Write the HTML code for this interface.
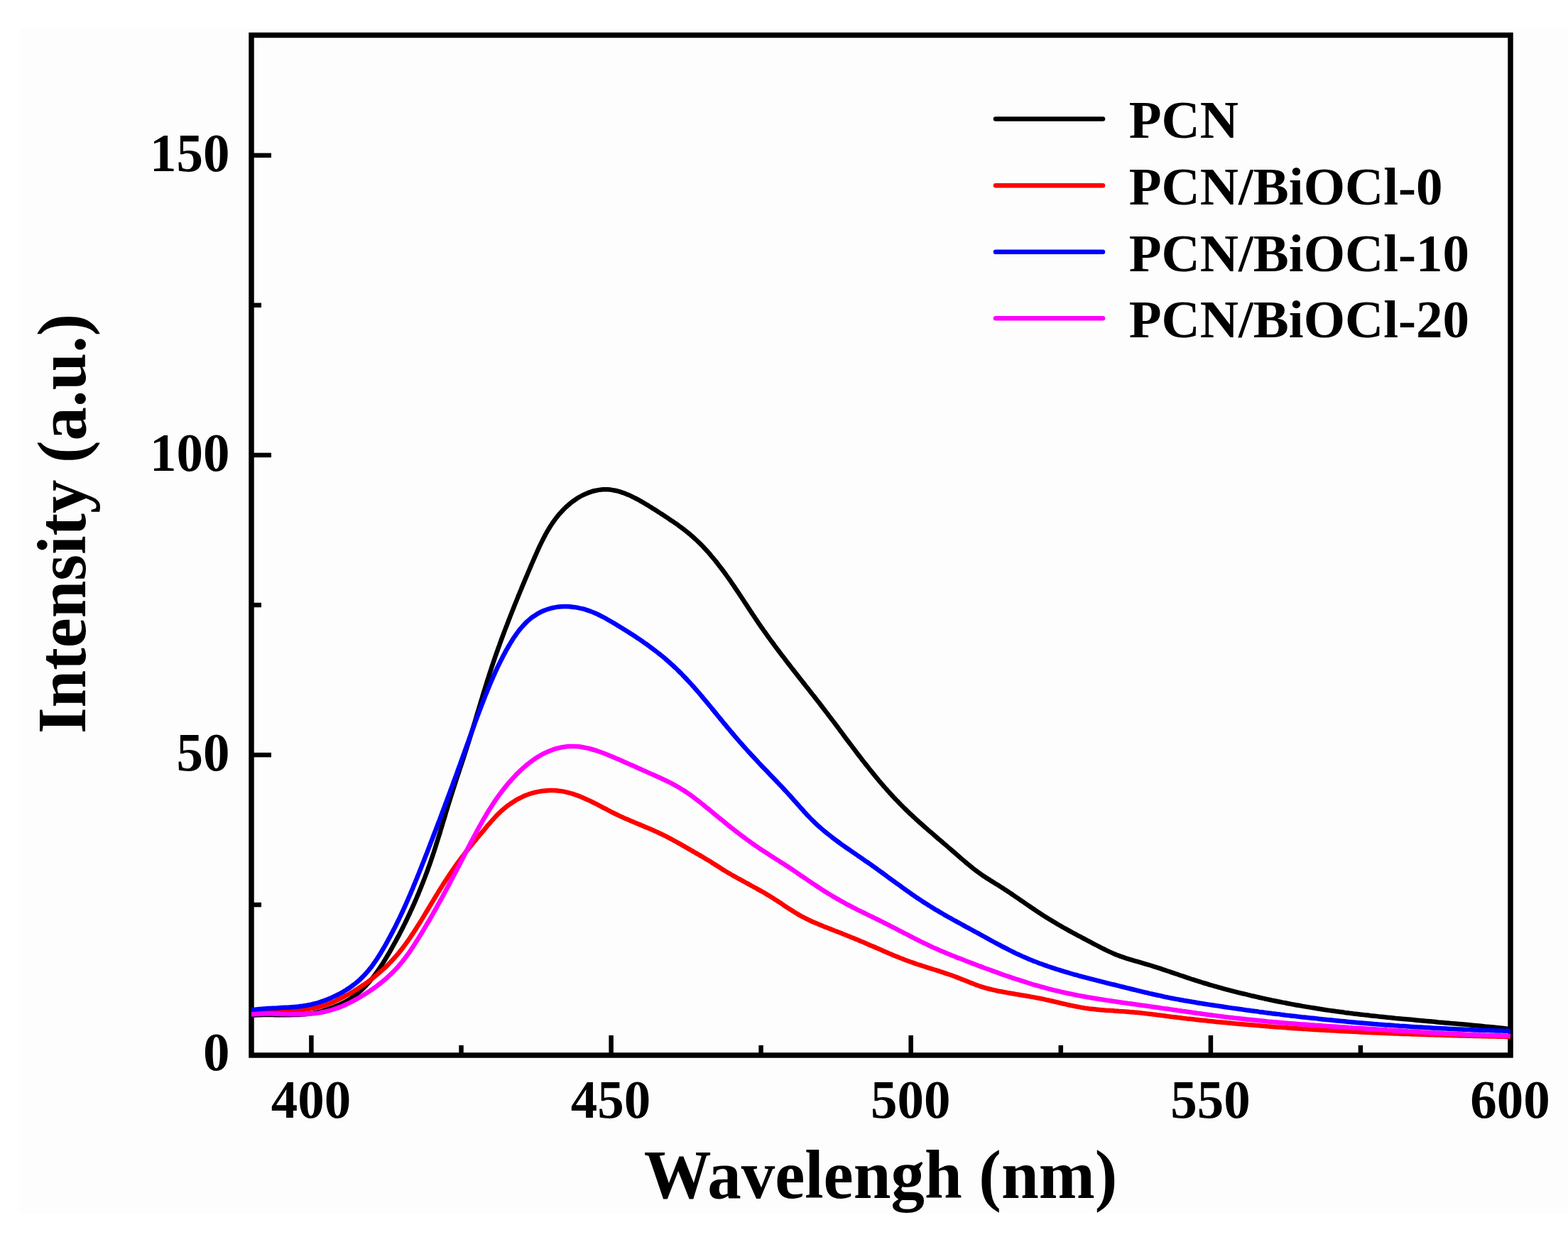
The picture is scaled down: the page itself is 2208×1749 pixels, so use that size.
<!DOCTYPE html>
<html><head><meta charset="utf-8"><title>PL spectra</title>
<style>html,body{margin:0;padding:0;background:#fff;}svg{display:block;}</style>
</head><body>
<svg width="2208" height="1749" viewBox="0 0 2208 1749"><rect x="0" y="0" width="2208" height="1749" fill="#FFFFFF"/>
<rect x="28" y="41" width="2180" height="1668" fill="#FDFDFD"/>
<rect x="354.0" y="49.5" width="1773.0" height="1436.5" fill="none" stroke="#000" stroke-width="7.5"/>
<g stroke="#000" stroke-width="6.5"><line x1="438.4" y1="1486.0" x2="438.4" y2="1458.0"/><line x1="860.6" y1="1486.0" x2="860.6" y2="1458.0"/><line x1="1282.7" y1="1486.0" x2="1282.7" y2="1458.0"/><line x1="1704.9" y1="1486.0" x2="1704.9" y2="1458.0"/><line x1="2127.0" y1="1486.0" x2="2127.0" y2="1458.0"/><line x1="649.5" y1="1486.0" x2="649.5" y2="1472.0"/><line x1="1071.6" y1="1486.0" x2="1071.6" y2="1472.0"/><line x1="1493.8" y1="1486.0" x2="1493.8" y2="1472.0"/><line x1="1915.9" y1="1486.0" x2="1915.9" y2="1472.0"/><line x1="354.0" y1="1063.1" x2="382.0" y2="1063.1"/><line x1="354.0" y1="640.9" x2="382.0" y2="640.9"/><line x1="354.0" y1="218.8" x2="382.0" y2="218.8"/><line x1="354.0" y1="1274.1" x2="368.0" y2="1274.1"/><line x1="354.0" y1="852.0" x2="368.0" y2="852.0"/><line x1="354.0" y1="429.8" x2="368.0" y2="429.8"/></g>
<clipPath id="c"><rect x="354.0" y="49.5" width="1773.0" height="1436.5"/></clipPath>
<g clip-path="url(#c)" fill="none" stroke-width="6.5" stroke-linejoin="round" stroke-linecap="butt">
<path d="M354.0 1429.8 C356.0 1429.7 358.0 1429.5 360.0 1429.4 C362.0 1429.3 364.0 1429.3 366.0 1429.2 C368.0 1429.1 370.0 1429.1 372.0 1429.1 C374.0 1429.1 376.0 1429.1 378.0 1429.1 C380.0 1429.1 382.0 1429.1 384.0 1429.1 C386.0 1429.1 388.0 1429.2 390.0 1429.2 C392.1 1429.2 394.1 1429.2 396.1 1429.2 C398.1 1429.3 400.1 1429.3 402.1 1429.3 C404.1 1429.3 406.1 1429.3 408.1 1429.2 C410.1 1429.2 412.1 1429.2 414.1 1429.1 C416.1 1429.1 418.1 1429.0 420.1 1428.9 C422.1 1428.8 424.1 1428.7 426.1 1428.5 C428.1 1428.3 430.1 1428.1 432.0 1427.9 C434.0 1427.7 436.0 1427.4 438.0 1427.1 C440.0 1426.8 441.9 1426.5 443.9 1426.1 C445.9 1425.7 447.8 1425.3 449.8 1424.8 C451.7 1424.3 453.6 1423.7 455.6 1423.1 C457.5 1422.6 459.4 1421.9 461.3 1421.3 C463.2 1420.6 465.0 1420.0 466.9 1419.3 C468.8 1418.6 470.7 1417.8 472.5 1417.1 C474.4 1416.4 476.2 1415.6 478.1 1414.8 C479.9 1414.0 481.7 1413.1 483.5 1412.2 C485.3 1411.3 487.0 1410.3 488.8 1409.3 C490.5 1408.3 492.2 1407.3 493.9 1406.2 C495.5 1405.1 497.2 1403.9 498.8 1402.7 C500.4 1401.5 502.0 1400.3 503.5 1399.0 C505.0 1397.7 506.6 1396.4 508.0 1395.1 C509.5 1393.7 511.0 1392.3 512.4 1390.9 C513.8 1389.5 515.2 1388.1 516.5 1386.6 C517.9 1385.1 519.2 1383.6 520.5 1382.1 C521.8 1380.6 523.1 1379.0 524.3 1377.5 C525.6 1375.9 526.8 1374.3 528.0 1372.7 C529.2 1371.1 530.4 1369.5 531.5 1367.8 C532.7 1366.2 533.8 1364.5 534.9 1362.9 C536.0 1361.2 537.1 1359.5 538.2 1357.9 C539.3 1356.2 540.3 1354.5 541.4 1352.8 C542.4 1351.1 543.5 1349.3 544.5 1347.6 C545.5 1345.9 546.6 1344.2 547.6 1342.5 C548.6 1340.7 549.6 1339.0 550.6 1337.2 C551.5 1335.5 552.5 1333.8 553.5 1332.0 C554.5 1330.3 555.5 1328.5 556.4 1326.8 C557.4 1325.0 558.3 1323.2 559.3 1321.5 C560.2 1319.7 561.2 1317.9 562.1 1316.2 C563.0 1314.4 563.9 1312.6 564.9 1310.8 C565.8 1309.1 566.7 1307.3 567.6 1305.5 C568.5 1303.7 569.4 1301.9 570.3 1300.1 C571.1 1298.3 572.0 1296.5 572.9 1294.7 C573.8 1292.9 574.6 1291.1 575.5 1289.3 C576.3 1287.5 577.2 1285.7 578.0 1283.8 C578.8 1282.0 579.7 1280.2 580.5 1278.4 C581.3 1276.6 582.1 1274.7 583.0 1272.9 C583.8 1271.1 584.6 1269.2 585.4 1267.4 C586.2 1265.6 586.9 1263.7 587.7 1261.9 C588.5 1260.0 589.3 1258.2 590.0 1256.3 C590.8 1254.5 591.6 1252.6 592.3 1250.8 C593.1 1248.9 593.8 1247.1 594.5 1245.2 C595.3 1243.3 596.0 1241.5 596.7 1239.6 C597.5 1237.7 598.2 1235.9 598.9 1234.0 C599.6 1232.1 600.3 1230.2 601.0 1228.4 C601.7 1226.5 602.4 1224.6 603.0 1222.7 C603.7 1220.8 604.4 1219.0 605.1 1217.1 C605.7 1215.2 606.4 1213.3 607.0 1211.4 C607.7 1209.5 608.3 1207.6 609.0 1205.7 C609.6 1203.8 610.2 1201.9 610.9 1200.0 C611.5 1198.1 612.1 1196.2 612.7 1194.3 C613.3 1192.4 613.9 1190.5 614.5 1188.6 C615.1 1186.7 615.7 1184.8 616.3 1182.8 C616.9 1180.9 617.5 1179.0 618.1 1177.1 C618.7 1175.2 619.3 1173.3 619.9 1171.4 C620.4 1169.5 621.0 1167.5 621.6 1165.6 C622.2 1163.7 622.8 1161.8 623.3 1159.9 C623.9 1157.9 624.5 1156.0 625.1 1154.1 C625.6 1152.2 626.2 1150.3 626.8 1148.4 C627.4 1146.4 627.9 1144.5 628.5 1142.6 C629.1 1140.7 629.7 1138.8 630.2 1136.9 C630.8 1134.9 631.4 1133.0 632.0 1131.1 C632.6 1129.2 633.2 1127.3 633.8 1125.4 C634.4 1123.5 635.0 1121.6 635.6 1119.6 C636.2 1117.7 636.8 1115.8 637.4 1113.9 C638.0 1112.0 638.6 1110.1 639.2 1108.2 C639.8 1106.3 640.5 1104.4 641.1 1102.5 C641.7 1100.6 642.3 1098.7 642.9 1096.8 C643.6 1094.9 644.2 1093.0 644.8 1091.1 C645.5 1089.2 646.1 1087.3 646.7 1085.4 C647.3 1083.5 648.0 1081.6 648.6 1079.7 C649.2 1077.8 649.9 1075.9 650.5 1074.0 C651.1 1072.1 651.7 1070.2 652.4 1068.3 C653.0 1066.4 653.6 1064.5 654.2 1062.6 C654.8 1060.7 655.5 1058.7 656.1 1056.8 C656.7 1054.9 657.3 1053.0 657.9 1051.1 C658.5 1049.2 659.1 1047.3 659.7 1045.4 C660.3 1043.5 660.9 1041.6 661.5 1039.7 C662.1 1037.8 662.7 1035.9 663.3 1033.9 C663.9 1032.0 664.5 1030.1 665.1 1028.2 C665.7 1026.3 666.3 1024.4 666.8 1022.5 C667.4 1020.5 668.0 1018.6 668.6 1016.7 C669.2 1014.8 669.7 1012.9 670.3 1011.0 C670.9 1009.0 671.5 1007.1 672.0 1005.2 C672.6 1003.3 673.2 1001.4 673.8 999.4 C674.3 997.5 674.9 995.6 675.5 993.7 C676.1 991.8 676.6 989.9 677.2 987.9 C677.8 986.0 678.4 984.1 679.0 982.2 C679.5 980.3 680.1 978.4 680.7 976.5 C681.3 974.5 681.9 972.6 682.5 970.7 C683.1 968.8 683.7 966.9 684.3 965.0 C684.8 963.1 685.4 961.1 686.0 959.2 C686.6 957.3 687.3 955.4 687.9 953.5 C688.5 951.6 689.1 949.7 689.7 947.8 C690.3 945.9 690.9 944.0 691.6 942.1 C692.2 940.2 692.8 938.3 693.5 936.4 C694.1 934.5 694.7 932.6 695.4 930.7 C696.0 928.8 696.7 926.9 697.3 925.0 C698.0 923.1 698.7 921.2 699.3 919.3 C700.0 917.5 700.7 915.6 701.3 913.7 C702.0 911.8 702.7 909.9 703.4 908.0 C704.0 906.2 704.7 904.3 705.4 902.4 C706.1 900.5 706.8 898.6 707.5 896.8 C708.2 894.9 708.9 893.0 709.6 891.1 C710.3 889.3 711.0 887.4 711.7 885.5 C712.4 883.6 713.1 881.8 713.9 879.9 C714.6 878.0 715.3 876.2 716.0 874.3 C716.7 872.4 717.5 870.6 718.2 868.7 C718.9 866.8 719.7 865.0 720.4 863.1 C721.1 861.2 721.9 859.4 722.6 857.5 C723.3 855.7 724.1 853.8 724.8 851.9 C725.6 850.1 726.3 848.2 727.1 846.4 C727.8 844.5 728.6 842.7 729.3 840.8 C730.1 839.0 730.8 837.1 731.6 835.2 C732.3 833.4 733.1 831.5 733.9 829.7 C734.6 827.8 735.4 826.0 736.2 824.1 C736.9 822.3 737.7 820.4 738.5 818.6 C739.2 816.7 740.0 814.9 740.8 813.1 C741.6 811.2 742.4 809.4 743.1 807.5 C743.9 805.7 744.7 803.8 745.5 802.0 C746.3 800.2 747.1 798.3 747.8 796.5 C748.6 794.6 749.4 792.8 750.2 791.0 C751.0 789.1 751.8 787.3 752.6 785.4 C753.4 783.6 754.2 781.8 755.0 779.9 C755.8 778.1 756.6 776.3 757.5 774.5 C758.3 772.6 759.1 770.8 760.0 769.0 C760.8 767.2 761.7 765.4 762.6 763.6 C763.5 761.8 764.4 760.0 765.3 758.2 C766.2 756.5 767.1 754.7 768.1 752.9 C769.1 751.2 770.0 749.4 771.0 747.7 C772.0 746.0 773.1 744.2 774.1 742.5 C775.2 740.8 776.3 739.2 777.4 737.5 C778.5 735.8 779.7 734.2 780.8 732.6 C782.0 731.0 783.2 729.4 784.5 727.8 C785.7 726.2 787.0 724.7 788.3 723.2 C789.6 721.7 791.0 720.2 792.4 718.7 C793.7 717.3 795.2 715.9 796.6 714.5 C798.1 713.1 799.6 711.8 801.1 710.5 C802.6 709.2 804.2 707.9 805.8 706.7 C807.4 705.5 809.0 704.3 810.6 703.2 C812.3 702.1 814.0 701.0 815.7 700.0 C817.5 699.0 819.2 698.1 821.0 697.2 C822.8 696.3 824.6 695.4 826.5 694.7 C828.3 693.9 830.2 693.2 832.1 692.6 C834.0 692.0 835.9 691.5 837.9 691.0 C839.8 690.6 841.8 690.2 843.8 689.9 C845.8 689.6 847.8 689.4 849.8 689.3 C851.8 689.2 853.8 689.2 855.8 689.3 C857.8 689.4 859.8 689.6 861.8 689.9 C863.7 690.1 865.7 690.5 867.7 691.0 C869.6 691.4 871.5 692.0 873.4 692.6 C875.4 693.2 877.2 693.8 879.1 694.5 C881.0 695.3 882.8 696.0 884.7 696.8 C886.5 697.6 888.3 698.4 890.1 699.3 C892.0 700.2 893.7 701.1 895.5 702.0 C897.3 702.9 899.1 703.8 900.8 704.8 C902.6 705.8 904.3 706.8 906.0 707.8 C907.8 708.8 909.5 709.8 911.2 710.9 C912.9 711.9 914.6 713.0 916.3 714.0 C918.0 715.1 919.7 716.2 921.4 717.3 C923.0 718.3 924.7 719.4 926.4 720.5 C928.1 721.6 929.8 722.7 931.5 723.8 C933.1 724.9 934.8 725.9 936.5 727.0 C938.2 728.1 939.8 729.2 941.5 730.3 C943.2 731.5 944.8 732.6 946.5 733.7 C948.1 734.8 949.8 736.0 951.4 737.1 C953.1 738.2 954.7 739.4 956.3 740.6 C958.0 741.8 959.6 742.9 961.2 744.2 C962.8 745.4 964.3 746.6 965.9 747.8 C967.5 749.1 969.0 750.3 970.6 751.6 C972.1 752.9 973.6 754.2 975.1 755.5 C976.6 756.8 978.1 758.2 979.6 759.6 C981.1 760.9 982.5 762.3 983.9 763.7 C985.4 765.1 986.8 766.5 988.2 767.9 C989.6 769.4 991.0 770.8 992.3 772.3 C993.7 773.8 995.0 775.2 996.4 776.7 C997.7 778.2 999.0 779.7 1000.3 781.2 C1001.6 782.8 1002.9 784.3 1004.2 785.8 C1005.5 787.4 1006.8 788.9 1008.0 790.5 C1009.3 792.0 1010.5 793.6 1011.7 795.2 C1013.0 796.8 1014.2 798.4 1015.4 800.0 C1016.6 801.6 1017.8 803.2 1019.0 804.8 C1020.2 806.4 1021.4 808.0 1022.5 809.6 C1023.7 811.2 1024.9 812.9 1026.0 814.5 C1027.2 816.1 1028.3 817.8 1029.5 819.4 C1030.6 821.1 1031.7 822.7 1032.9 824.4 C1034.0 826.0 1035.1 827.7 1036.2 829.3 C1037.4 831.0 1038.5 832.7 1039.6 834.3 C1040.7 836.0 1041.8 837.7 1042.9 839.3 C1044.0 841.0 1045.1 842.7 1046.2 844.3 C1047.3 846.0 1048.4 847.7 1049.5 849.4 C1050.6 851.0 1051.7 852.7 1052.8 854.4 C1053.9 856.1 1055.0 857.7 1056.1 859.4 C1057.2 861.1 1058.3 862.7 1059.4 864.4 C1060.5 866.1 1061.7 867.7 1062.8 869.4 C1063.9 871.1 1065.0 872.7 1066.1 874.4 C1067.2 876.0 1068.4 877.7 1069.5 879.4 C1070.6 881.0 1071.8 882.7 1072.9 884.3 C1074.1 885.9 1075.2 887.6 1076.4 889.2 C1077.5 890.8 1078.7 892.5 1079.9 894.1 C1081.0 895.7 1082.2 897.4 1083.4 899.0 C1084.5 900.6 1085.7 902.2 1086.9 903.8 C1088.1 905.4 1089.3 907.0 1090.5 908.7 C1091.7 910.3 1092.9 911.9 1094.1 913.5 C1095.3 915.1 1096.5 916.7 1097.7 918.3 C1098.9 919.9 1100.1 921.5 1101.3 923.1 C1102.5 924.6 1103.7 926.2 1105.0 927.8 C1106.2 929.4 1107.4 931.0 1108.6 932.6 C1109.9 934.2 1111.1 935.7 1112.3 937.3 C1113.5 938.9 1114.8 940.5 1116.0 942.1 C1117.2 943.6 1118.5 945.2 1119.7 946.8 C1120.9 948.4 1122.2 949.9 1123.4 951.5 C1124.6 953.1 1125.9 954.7 1127.1 956.2 C1128.3 957.8 1129.6 959.4 1130.8 961.0 C1132.1 962.5 1133.3 964.1 1134.5 965.7 C1135.8 967.3 1137.0 968.8 1138.3 970.4 C1139.5 972.0 1140.7 973.5 1142.0 975.1 C1143.2 976.7 1144.4 978.3 1145.7 979.8 C1146.9 981.4 1148.1 983.0 1149.4 984.6 C1150.6 986.2 1151.8 987.7 1153.1 989.3 C1154.3 990.9 1155.5 992.5 1156.8 994.1 C1158.0 995.6 1159.2 997.2 1160.4 998.8 C1161.6 1000.4 1162.9 1002.0 1164.1 1003.6 C1165.3 1005.2 1166.5 1006.8 1167.7 1008.4 C1168.9 1010.0 1170.1 1011.5 1171.3 1013.1 C1172.5 1014.7 1173.8 1016.3 1175.0 1017.9 C1176.2 1019.5 1177.4 1021.1 1178.6 1022.7 C1179.8 1024.4 1181.0 1026.0 1182.2 1027.6 C1183.4 1029.2 1184.6 1030.8 1185.8 1032.4 C1187.0 1034.0 1188.1 1035.6 1189.3 1037.2 C1190.5 1038.8 1191.7 1040.4 1192.9 1042.0 C1194.1 1043.6 1195.3 1045.2 1196.5 1046.8 C1197.8 1048.4 1199.0 1050.0 1200.2 1051.6 C1201.4 1053.2 1202.6 1054.8 1203.8 1056.4 C1205.0 1058.0 1206.2 1059.6 1207.4 1061.2 C1208.6 1062.8 1209.8 1064.3 1211.1 1065.9 C1212.3 1067.5 1213.5 1069.1 1214.7 1070.7 C1216.0 1072.3 1217.2 1073.8 1218.4 1075.4 C1219.7 1077.0 1220.9 1078.6 1222.2 1080.1 C1223.4 1081.7 1224.6 1083.3 1225.9 1084.8 C1227.2 1086.4 1228.4 1087.9 1229.7 1089.5 C1230.9 1091.1 1232.2 1092.6 1233.5 1094.1 C1234.8 1095.7 1236.0 1097.2 1237.3 1098.8 C1238.6 1100.3 1239.9 1101.8 1241.2 1103.3 C1242.5 1104.9 1243.8 1106.4 1245.1 1107.9 C1246.5 1109.4 1247.8 1110.9 1249.1 1112.4 C1250.4 1113.9 1251.8 1115.4 1253.1 1116.9 C1254.5 1118.3 1255.8 1119.8 1257.2 1121.3 C1258.5 1122.8 1259.9 1124.2 1261.3 1125.7 C1262.7 1127.1 1264.1 1128.6 1265.5 1130.0 C1266.8 1131.4 1268.3 1132.9 1269.7 1134.3 C1271.1 1135.7 1272.5 1137.1 1273.9 1138.5 C1275.4 1139.9 1276.8 1141.3 1278.2 1142.7 C1279.7 1144.1 1281.1 1145.5 1282.6 1146.8 C1284.1 1148.2 1285.5 1149.6 1287.0 1150.9 C1288.5 1152.3 1290.0 1153.6 1291.4 1155.0 C1292.9 1156.3 1294.4 1157.7 1295.9 1159.0 C1297.4 1160.3 1298.9 1161.6 1300.4 1163.0 C1301.9 1164.3 1303.4 1165.6 1304.9 1166.9 C1306.4 1168.3 1307.9 1169.6 1309.4 1170.9 C1310.9 1172.2 1312.5 1173.5 1314.0 1174.8 C1315.5 1176.1 1317.0 1177.4 1318.5 1178.7 C1320.0 1180.0 1321.6 1181.3 1323.1 1182.6 C1324.6 1183.9 1326.1 1185.2 1327.6 1186.5 C1329.2 1187.8 1330.7 1189.1 1332.2 1190.4 C1333.7 1191.7 1335.3 1193.0 1336.8 1194.4 C1338.3 1195.7 1339.8 1197.0 1341.3 1198.3 C1342.8 1199.6 1344.3 1200.9 1345.9 1202.2 C1347.4 1203.5 1348.9 1204.8 1350.4 1206.1 C1351.9 1207.5 1353.4 1208.8 1354.9 1210.1 C1356.4 1211.4 1358.0 1212.7 1359.5 1214.0 C1361.0 1215.3 1362.6 1216.6 1364.1 1217.8 C1365.6 1219.1 1367.2 1220.4 1368.8 1221.6 C1370.3 1222.9 1371.9 1224.1 1373.5 1225.3 C1375.1 1226.5 1376.7 1227.7 1378.3 1228.9 C1379.9 1230.1 1381.6 1231.2 1383.2 1232.4 C1384.9 1233.5 1386.5 1234.6 1388.2 1235.7 C1389.9 1236.8 1391.6 1237.9 1393.3 1238.9 C1395.0 1240.0 1396.7 1241.1 1398.4 1242.1 C1400.1 1243.2 1401.8 1244.2 1403.5 1245.3 C1405.2 1246.3 1406.9 1247.4 1408.6 1248.5 C1410.3 1249.5 1411.9 1250.6 1413.6 1251.7 C1415.3 1252.8 1417.0 1253.9 1418.7 1255.0 C1420.3 1256.1 1422.0 1257.2 1423.6 1258.3 C1425.3 1259.5 1427.0 1260.6 1428.6 1261.7 C1430.3 1262.8 1431.9 1264.0 1433.6 1265.1 C1435.2 1266.2 1436.9 1267.4 1438.5 1268.5 C1440.2 1269.6 1441.8 1270.8 1443.5 1271.9 C1445.1 1273.0 1446.8 1274.2 1448.4 1275.3 C1450.1 1276.4 1451.7 1277.6 1453.4 1278.7 C1455.0 1279.8 1456.7 1280.9 1458.4 1282.1 C1460.0 1283.2 1461.7 1284.3 1463.4 1285.4 C1465.0 1286.5 1466.7 1287.6 1468.4 1288.7 C1470.1 1289.7 1471.8 1290.8 1473.5 1291.9 C1475.2 1292.9 1476.9 1294.0 1478.6 1295.0 C1480.3 1296.1 1482.0 1297.1 1483.7 1298.1 C1485.4 1299.2 1487.2 1300.2 1488.9 1301.2 C1490.6 1302.2 1492.3 1303.2 1494.1 1304.2 C1495.8 1305.2 1497.6 1306.2 1499.3 1307.2 C1501.1 1308.2 1502.8 1309.1 1504.6 1310.1 C1506.3 1311.1 1508.1 1312.0 1509.8 1313.0 C1511.6 1314.0 1513.3 1314.9 1515.1 1315.9 C1516.9 1316.8 1518.6 1317.8 1520.4 1318.7 C1522.2 1319.6 1523.9 1320.6 1525.7 1321.5 C1527.5 1322.4 1529.2 1323.4 1531.0 1324.3 C1532.8 1325.2 1534.5 1326.2 1536.3 1327.1 C1538.1 1328.0 1539.9 1329.0 1541.6 1329.9 C1543.4 1330.8 1545.2 1331.7 1547.0 1332.7 C1548.8 1333.6 1550.5 1334.5 1552.3 1335.4 C1554.1 1336.3 1555.9 1337.2 1557.7 1338.1 C1559.5 1338.9 1561.3 1339.8 1563.1 1340.6 C1565.0 1341.5 1566.8 1342.3 1568.6 1343.1 C1570.5 1343.8 1572.3 1344.6 1574.2 1345.3 C1576.0 1346.1 1577.9 1346.8 1579.8 1347.4 C1581.7 1348.1 1583.6 1348.7 1585.5 1349.3 C1587.4 1349.9 1589.3 1350.5 1591.2 1351.1 C1593.2 1351.7 1595.1 1352.2 1597.0 1352.8 C1598.9 1353.4 1600.9 1353.9 1602.8 1354.4 C1604.7 1355.0 1606.6 1355.5 1608.6 1356.1 C1610.5 1356.6 1612.4 1357.2 1614.3 1357.8 C1616.2 1358.3 1618.2 1358.9 1620.1 1359.5 C1622.0 1360.1 1623.9 1360.7 1625.8 1361.3 C1627.7 1361.9 1629.6 1362.5 1631.5 1363.2 C1633.4 1363.8 1635.3 1364.4 1637.2 1365.1 C1639.1 1365.7 1641.0 1366.3 1642.9 1367.0 C1644.8 1367.6 1646.7 1368.2 1648.6 1368.9 C1650.5 1369.5 1652.4 1370.2 1654.3 1370.8 C1656.2 1371.5 1658.1 1372.1 1660.0 1372.8 C1661.9 1373.4 1663.8 1374.1 1665.7 1374.7 C1667.5 1375.3 1669.4 1376.0 1671.3 1376.6 C1673.2 1377.3 1675.1 1377.9 1677.0 1378.5 C1678.9 1379.1 1680.9 1379.8 1682.8 1380.4 C1684.7 1381.0 1686.6 1381.6 1688.5 1382.2 C1690.4 1382.8 1692.3 1383.4 1694.2 1384.0 C1696.1 1384.5 1698.1 1385.1 1700.0 1385.7 C1701.9 1386.3 1703.8 1386.8 1705.7 1387.4 C1707.7 1387.9 1709.6 1388.5 1711.5 1389.0 C1713.4 1389.6 1715.4 1390.1 1717.3 1390.7 C1719.2 1391.2 1721.1 1391.7 1723.1 1392.3 C1725.0 1392.8 1726.9 1393.3 1728.9 1393.8 C1730.8 1394.3 1732.8 1394.8 1734.7 1395.3 C1736.6 1395.8 1738.6 1396.3 1740.5 1396.8 C1742.5 1397.3 1744.4 1397.8 1746.3 1398.3 C1748.3 1398.8 1750.2 1399.2 1752.2 1399.7 C1754.1 1400.2 1756.1 1400.7 1758.0 1401.1 C1760.0 1401.6 1761.9 1402.0 1763.9 1402.5 C1765.8 1403.0 1767.8 1403.4 1769.7 1403.8 C1771.7 1404.3 1773.6 1404.7 1775.6 1405.2 C1777.5 1405.6 1779.5 1406.0 1781.4 1406.5 C1783.4 1406.9 1785.3 1407.3 1787.3 1407.7 C1789.3 1408.1 1791.2 1408.6 1793.2 1409.0 C1795.1 1409.4 1797.1 1409.8 1799.1 1410.2 C1801.0 1410.6 1803.0 1411.0 1804.9 1411.4 C1806.9 1411.8 1808.9 1412.1 1810.8 1412.5 C1812.8 1412.9 1814.8 1413.3 1816.7 1413.6 C1818.7 1414.0 1820.7 1414.4 1822.6 1414.7 C1824.6 1415.1 1826.6 1415.5 1828.6 1415.8 C1830.5 1416.2 1832.5 1416.5 1834.5 1416.9 C1836.4 1417.2 1838.4 1417.6 1840.4 1417.9 C1842.4 1418.2 1844.3 1418.6 1846.3 1418.9 C1848.3 1419.2 1850.3 1419.5 1852.2 1419.8 C1854.2 1420.2 1856.2 1420.5 1858.2 1420.8 C1860.2 1421.1 1862.1 1421.4 1864.1 1421.7 C1866.1 1422.0 1868.1 1422.3 1870.0 1422.6 C1872.0 1422.9 1874.0 1423.2 1876.0 1423.4 C1878.0 1423.7 1880.0 1424.0 1881.9 1424.3 C1883.9 1424.5 1885.9 1424.8 1887.9 1425.1 C1889.9 1425.3 1891.9 1425.6 1893.8 1425.9 C1895.8 1426.1 1897.8 1426.4 1899.8 1426.6 C1901.8 1426.9 1903.8 1427.1 1905.8 1427.4 C1907.8 1427.6 1909.7 1427.9 1911.7 1428.1 C1913.7 1428.3 1915.7 1428.6 1917.7 1428.8 C1919.7 1429.0 1921.7 1429.3 1923.7 1429.5 C1925.6 1429.7 1927.6 1429.9 1929.6 1430.2 C1931.6 1430.4 1933.6 1430.6 1935.6 1430.8 C1937.6 1431.0 1939.6 1431.2 1941.6 1431.5 C1943.6 1431.7 1945.6 1431.9 1947.5 1432.1 C1949.5 1432.3 1951.5 1432.5 1953.5 1432.7 C1955.5 1432.9 1957.5 1433.1 1959.5 1433.3 C1961.5 1433.5 1963.5 1433.7 1965.5 1433.9 C1967.5 1434.1 1969.5 1434.3 1971.4 1434.5 C1973.4 1434.7 1975.4 1434.8 1977.4 1435.0 C1979.4 1435.2 1981.4 1435.4 1983.4 1435.6 C1985.4 1435.8 1987.4 1436.0 1989.4 1436.1 C1991.4 1436.3 1993.4 1436.5 1995.4 1436.7 C1997.4 1436.9 1999.4 1437.1 2001.3 1437.2 C2003.3 1437.4 2005.3 1437.6 2007.3 1437.8 C2009.3 1437.9 2011.3 1438.1 2013.3 1438.3 C2015.3 1438.5 2017.3 1438.7 2019.3 1438.8 C2021.3 1439.0 2023.3 1439.2 2025.3 1439.4 C2027.3 1439.5 2029.3 1439.7 2031.3 1439.9 C2033.3 1440.1 2035.3 1440.2 2037.2 1440.4 C2039.2 1440.6 2041.2 1440.8 2043.2 1441.0 C2045.2 1441.1 2047.2 1441.3 2049.2 1441.5 C2051.2 1441.7 2053.2 1441.8 2055.2 1442.0 C2057.2 1442.2 2059.2 1442.4 2061.2 1442.6 C2063.2 1442.8 2065.2 1442.9 2067.2 1443.1 C2069.1 1443.3 2071.1 1443.5 2073.1 1443.7 C2075.1 1443.9 2077.1 1444.0 2079.1 1444.2 C2081.1 1444.4 2083.1 1444.6 2085.1 1444.8 C2087.1 1445.0 2089.1 1445.2 2091.1 1445.4 C2093.1 1445.6 2095.1 1445.8 2097.0 1446.0 C2099.0 1446.2 2101.0 1446.4 2103.0 1446.6 C2105.0 1446.8 2107.0 1447.0 2109.0 1447.2 C2111.0 1447.4 2113.0 1447.6 2115.0 1447.8 C2117.0 1448.0 2119.0 1448.2 2120.9 1448.5 C2122.9 1448.7 2124.9 1448.9 2126.9 1449.1" stroke="#000000"/>
<path d="M354.1 1424.1 C356.1 1424.0 358.0 1423.8 360.0 1423.7 C362.0 1423.5 364.0 1423.4 366.0 1423.3 C368.0 1423.3 370.1 1423.2 372.1 1423.2 C374.1 1423.1 376.1 1423.1 378.1 1423.1 C380.1 1423.0 382.1 1423.0 384.1 1423.0 C386.1 1423.0 388.1 1423.0 390.1 1423.0 C392.1 1423.0 394.1 1423.0 396.1 1423.0 C398.1 1423.0 400.1 1423.0 402.1 1423.0 C404.1 1422.9 406.1 1422.9 408.1 1422.8 C410.1 1422.8 412.1 1422.7 414.1 1422.7 C416.1 1422.6 418.1 1422.5 420.1 1422.3 C422.1 1422.2 424.1 1422.1 426.1 1421.9 C428.1 1421.7 430.1 1421.5 432.1 1421.2 C434.1 1421.0 436.1 1420.7 438.0 1420.4 C440.0 1420.0 442.0 1419.7 443.9 1419.3 C445.9 1418.9 447.8 1418.4 449.8 1417.9 C451.7 1417.4 453.6 1416.8 455.5 1416.2 C457.4 1415.6 459.3 1414.9 461.2 1414.2 C463.1 1413.5 465.0 1412.8 466.8 1412.0 C468.7 1411.2 470.5 1410.4 472.3 1409.6 C474.1 1408.8 475.9 1407.9 477.7 1407.0 C479.5 1406.1 481.3 1405.2 483.1 1404.3 C484.9 1403.4 486.6 1402.4 488.4 1401.4 C490.1 1400.5 491.9 1399.5 493.6 1398.5 C495.4 1397.5 497.1 1396.5 498.8 1395.4 C500.5 1394.4 502.2 1393.3 503.9 1392.3 C505.6 1391.2 507.3 1390.1 508.9 1389.0 C510.6 1387.9 512.3 1386.7 513.9 1385.6 C515.5 1384.4 517.2 1383.3 518.8 1382.1 C520.4 1380.9 522.0 1379.7 523.6 1378.5 C525.2 1377.2 526.7 1376.0 528.3 1374.7 C529.8 1373.5 531.4 1372.2 532.9 1370.9 C534.4 1369.6 535.9 1368.3 537.4 1366.9 C538.9 1365.6 540.4 1364.2 541.9 1362.9 C543.3 1361.5 544.8 1360.1 546.2 1358.7 C547.6 1357.3 549.0 1355.9 550.4 1354.4 C551.8 1353.0 553.1 1351.5 554.5 1350.0 C555.8 1348.5 557.1 1347.0 558.5 1345.5 C559.8 1344.0 561.0 1342.4 562.3 1340.9 C563.6 1339.3 564.8 1337.8 566.0 1336.2 C567.3 1334.6 568.5 1333.0 569.7 1331.4 C570.9 1329.8 572.1 1328.2 573.2 1326.5 C574.4 1324.9 575.5 1323.3 576.7 1321.6 C577.8 1320.0 578.9 1318.3 580.0 1316.7 C581.2 1315.0 582.3 1313.3 583.4 1311.6 C584.4 1310.0 585.5 1308.3 586.6 1306.6 C587.7 1304.9 588.7 1303.2 589.8 1301.5 C590.9 1299.8 591.9 1298.1 593.0 1296.4 C594.0 1294.7 595.1 1293.0 596.1 1291.3 C597.1 1289.6 598.2 1287.8 599.2 1286.1 C600.3 1284.4 601.3 1282.7 602.3 1281.0 C603.3 1279.3 604.4 1277.5 605.4 1275.8 C606.4 1274.1 607.5 1272.4 608.5 1270.7 C609.5 1269.0 610.6 1267.2 611.6 1265.5 C612.6 1263.8 613.7 1262.1 614.7 1260.4 C615.8 1258.7 616.8 1257.0 617.9 1255.3 C618.9 1253.6 620.0 1251.9 621.0 1250.2 C622.1 1248.5 623.2 1246.8 624.2 1245.1 C625.3 1243.4 626.4 1241.7 627.5 1240.0 C628.6 1238.3 629.7 1236.7 630.8 1235.0 C631.9 1233.3 633.0 1231.7 634.1 1230.0 C635.2 1228.3 636.4 1226.7 637.5 1225.0 C638.6 1223.4 639.8 1221.7 640.9 1220.1 C642.1 1218.5 643.2 1216.8 644.4 1215.2 C645.6 1213.6 646.8 1212.0 648.0 1210.3 C649.1 1208.7 650.3 1207.1 651.6 1205.5 C652.8 1203.9 654.0 1202.4 655.2 1200.8 C656.5 1199.2 657.7 1197.6 658.9 1196.1 C660.2 1194.5 661.5 1192.9 662.7 1191.4 C664.0 1189.8 665.3 1188.3 666.5 1186.7 C667.8 1185.2 669.1 1183.6 670.4 1182.1 C671.7 1180.6 672.9 1179.0 674.2 1177.5 C675.5 1176.0 676.8 1174.4 678.1 1172.9 C679.4 1171.4 680.7 1169.8 682.0 1168.3 C683.3 1166.8 684.5 1165.2 685.8 1163.7 C687.1 1162.2 688.4 1160.6 689.7 1159.1 C691.0 1157.6 692.3 1156.1 693.7 1154.6 C695.0 1153.1 696.3 1151.6 697.7 1150.2 C699.1 1148.7 700.5 1147.3 701.9 1145.9 C703.4 1144.5 704.8 1143.1 706.3 1141.8 C707.8 1140.5 709.3 1139.1 710.9 1137.9 C712.4 1136.6 714.0 1135.4 715.6 1134.2 C717.2 1133.0 718.9 1131.8 720.5 1130.7 C722.2 1129.6 723.9 1128.5 725.6 1127.4 C727.3 1126.4 729.0 1125.4 730.8 1124.5 C732.6 1123.6 734.4 1122.7 736.2 1121.8 C738.0 1121.0 739.9 1120.2 741.7 1119.5 C743.6 1118.8 745.5 1118.1 747.4 1117.5 C749.3 1116.9 751.3 1116.4 753.2 1115.9 C755.1 1115.4 757.1 1115.0 759.1 1114.6 C761.0 1114.3 763.0 1114.0 765.0 1113.7 C767.0 1113.5 769.0 1113.3 771.0 1113.2 C773.0 1113.1 775.0 1113.1 777.0 1113.1 C779.0 1113.1 781.0 1113.2 783.0 1113.3 C785.0 1113.5 787.0 1113.7 789.0 1113.9 C791.0 1114.2 792.9 1114.5 794.9 1114.9 C796.9 1115.3 798.8 1115.8 800.8 1116.3 C802.7 1116.8 804.6 1117.3 806.5 1117.9 C808.5 1118.5 810.3 1119.2 812.2 1119.9 C814.1 1120.6 816.0 1121.3 817.8 1122.0 C819.7 1122.8 821.5 1123.6 823.4 1124.4 C825.2 1125.2 827.0 1126.0 828.8 1126.9 C830.6 1127.7 832.4 1128.6 834.2 1129.5 C836.0 1130.4 837.8 1131.3 839.6 1132.2 C841.4 1133.1 843.2 1134.1 844.9 1135.0 C846.7 1135.9 848.5 1136.8 850.3 1137.8 C852.0 1138.7 853.8 1139.6 855.6 1140.6 C857.4 1141.5 859.1 1142.4 860.9 1143.3 C862.7 1144.2 864.5 1145.1 866.3 1146.0 C868.1 1146.9 869.9 1147.8 871.7 1148.6 C873.5 1149.5 875.3 1150.3 877.2 1151.1 C879.0 1152.0 880.8 1152.8 882.7 1153.6 C884.5 1154.4 886.3 1155.1 888.2 1155.9 C890.0 1156.7 891.9 1157.5 893.7 1158.3 C895.6 1159.0 897.4 1159.8 899.3 1160.6 C901.1 1161.3 903.0 1162.1 904.8 1162.9 C906.7 1163.6 908.5 1164.4 910.4 1165.2 C912.2 1166.0 914.1 1166.7 915.9 1167.5 C917.7 1168.3 919.6 1169.1 921.4 1170.0 C923.2 1170.8 925.1 1171.6 926.9 1172.5 C928.7 1173.3 930.5 1174.2 932.3 1175.0 C934.1 1175.9 935.9 1176.8 937.7 1177.7 C939.5 1178.6 941.2 1179.6 943.0 1180.5 C944.8 1181.4 946.5 1182.4 948.3 1183.3 C950.1 1184.3 951.8 1185.2 953.6 1186.2 C955.3 1187.2 957.1 1188.1 958.8 1189.1 C960.6 1190.1 962.3 1191.1 964.1 1192.1 C965.8 1193.1 967.5 1194.1 969.3 1195.1 C971.0 1196.1 972.8 1197.1 974.5 1198.1 C976.2 1199.1 978.0 1200.1 979.7 1201.1 C981.4 1202.1 983.2 1203.1 984.9 1204.1 C986.6 1205.1 988.4 1206.1 990.1 1207.1 C991.8 1208.1 993.5 1209.2 995.2 1210.2 C996.9 1211.2 998.7 1212.3 1000.4 1213.3 C1002.1 1214.4 1003.7 1215.5 1005.4 1216.6 C1007.1 1217.6 1008.8 1218.7 1010.5 1219.8 C1012.2 1220.9 1013.9 1222.0 1015.6 1223.0 C1017.2 1224.1 1018.9 1225.2 1020.7 1226.2 C1022.4 1227.2 1024.1 1228.3 1025.8 1229.3 C1027.5 1230.3 1029.3 1231.3 1031.0 1232.3 C1032.8 1233.3 1034.5 1234.3 1036.3 1235.2 C1038.0 1236.2 1039.8 1237.2 1041.5 1238.1 C1043.3 1239.1 1045.0 1240.1 1046.8 1241.0 C1048.5 1242.0 1050.3 1242.9 1052.1 1243.9 C1053.8 1244.9 1055.6 1245.8 1057.3 1246.8 C1059.1 1247.7 1060.9 1248.7 1062.6 1249.7 C1064.4 1250.6 1066.1 1251.6 1067.9 1252.6 C1069.6 1253.6 1071.4 1254.5 1073.1 1255.5 C1074.8 1256.5 1076.6 1257.5 1078.3 1258.6 C1080.0 1259.6 1081.7 1260.6 1083.5 1261.6 C1085.2 1262.7 1086.9 1263.7 1088.6 1264.8 C1090.3 1265.9 1091.9 1266.9 1093.6 1268.0 C1095.3 1269.1 1097.0 1270.2 1098.6 1271.3 C1100.3 1272.4 1102.0 1273.6 1103.6 1274.7 C1105.3 1275.8 1107.0 1276.9 1108.6 1278.0 C1110.3 1279.1 1112.0 1280.2 1113.7 1281.3 C1115.4 1282.4 1117.1 1283.5 1118.8 1284.5 C1120.5 1285.6 1122.2 1286.6 1123.9 1287.6 C1125.6 1288.6 1127.4 1289.6 1129.1 1290.6 C1130.9 1291.5 1132.7 1292.4 1134.5 1293.3 C1136.3 1294.2 1138.1 1295.1 1139.9 1296.0 C1141.7 1296.8 1143.5 1297.7 1145.3 1298.5 C1147.2 1299.3 1149.0 1300.1 1150.9 1300.8 C1152.7 1301.6 1154.6 1302.4 1156.4 1303.1 C1158.3 1303.9 1160.1 1304.6 1162.0 1305.4 C1163.9 1306.1 1165.7 1306.8 1167.6 1307.5 C1169.5 1308.3 1171.3 1309.0 1173.2 1309.7 C1175.1 1310.4 1176.9 1311.1 1178.8 1311.9 C1180.7 1312.6 1182.5 1313.3 1184.4 1314.0 C1186.3 1314.8 1188.1 1315.5 1190.0 1316.3 C1191.9 1317.0 1193.7 1317.8 1195.6 1318.5 C1197.4 1319.3 1199.3 1320.0 1201.1 1320.8 C1203.0 1321.6 1204.8 1322.3 1206.7 1323.1 C1208.5 1323.9 1210.4 1324.7 1212.2 1325.5 C1214.0 1326.2 1215.9 1327.0 1217.7 1327.8 C1219.6 1328.6 1221.4 1329.4 1223.2 1330.2 C1225.1 1331.0 1226.9 1331.8 1228.8 1332.6 C1230.6 1333.4 1232.4 1334.2 1234.3 1334.9 C1236.1 1335.7 1238.0 1336.5 1239.8 1337.3 C1241.6 1338.1 1243.5 1338.9 1245.3 1339.7 C1247.2 1340.5 1249.0 1341.3 1250.8 1342.1 C1252.7 1342.9 1254.5 1343.6 1256.4 1344.4 C1258.2 1345.2 1260.1 1346.0 1261.9 1346.7 C1263.8 1347.5 1265.6 1348.2 1267.5 1349.0 C1269.4 1349.7 1271.2 1350.4 1273.1 1351.2 C1275.0 1351.9 1276.8 1352.6 1278.7 1353.3 C1280.6 1354.0 1282.5 1354.7 1284.4 1355.3 C1286.3 1356.0 1288.2 1356.6 1290.0 1357.3 C1291.9 1357.9 1293.8 1358.6 1295.7 1359.2 C1297.7 1359.8 1299.6 1360.4 1301.5 1361.0 C1303.4 1361.6 1305.3 1362.2 1307.2 1362.8 C1309.1 1363.4 1311.0 1364.0 1312.9 1364.6 C1314.8 1365.2 1316.8 1365.8 1318.7 1366.4 C1320.6 1367.0 1322.5 1367.6 1324.4 1368.3 C1326.3 1368.9 1328.2 1369.5 1330.1 1370.1 C1332.0 1370.7 1333.9 1371.4 1335.8 1372.0 C1337.7 1372.7 1339.6 1373.3 1341.5 1374.0 C1343.4 1374.7 1345.3 1375.4 1347.1 1376.1 C1349.0 1376.8 1350.9 1377.5 1352.7 1378.2 C1354.6 1379.0 1356.5 1379.7 1358.3 1380.5 C1360.2 1381.2 1362.0 1382.0 1363.9 1382.7 C1365.7 1383.5 1367.6 1384.2 1369.5 1384.9 C1371.3 1385.7 1373.2 1386.4 1375.1 1387.1 C1377.0 1387.8 1378.8 1388.5 1380.7 1389.1 C1382.6 1389.7 1384.5 1390.4 1386.5 1390.9 C1388.4 1391.5 1390.3 1392.0 1392.3 1392.5 C1394.2 1393.0 1396.1 1393.5 1398.1 1393.9 C1400.0 1394.4 1402.0 1394.8 1404.0 1395.2 C1405.9 1395.6 1407.9 1396.0 1409.9 1396.3 C1411.8 1396.7 1413.8 1397.1 1415.8 1397.4 C1417.7 1397.8 1419.7 1398.2 1421.7 1398.5 C1423.7 1398.8 1425.6 1399.2 1427.6 1399.5 C1429.6 1399.9 1431.6 1400.2 1433.5 1400.5 C1435.5 1400.9 1437.5 1401.2 1439.5 1401.5 C1441.4 1401.8 1443.4 1402.2 1445.4 1402.5 C1447.4 1402.9 1449.3 1403.2 1451.3 1403.6 C1453.3 1403.9 1455.3 1404.3 1457.2 1404.6 C1459.2 1405.0 1461.2 1405.4 1463.1 1405.7 C1465.1 1406.1 1467.1 1406.5 1469.0 1406.9 C1471.0 1407.3 1472.9 1407.8 1474.9 1408.2 C1476.8 1408.6 1478.8 1409.1 1480.7 1409.5 C1482.7 1410.0 1484.6 1410.5 1486.6 1410.9 C1488.5 1411.4 1490.5 1411.9 1492.4 1412.3 C1494.4 1412.8 1496.3 1413.2 1498.3 1413.7 C1500.2 1414.2 1502.2 1414.6 1504.1 1415.0 C1506.1 1415.5 1508.1 1415.9 1510.0 1416.3 C1512.0 1416.7 1513.9 1417.1 1515.9 1417.5 C1517.9 1417.9 1519.8 1418.3 1521.8 1418.6 C1523.8 1419.0 1525.8 1419.3 1527.8 1419.6 C1529.7 1419.9 1531.7 1420.1 1533.7 1420.4 C1535.7 1420.6 1537.7 1420.9 1539.7 1421.1 C1541.7 1421.3 1543.7 1421.5 1545.7 1421.7 C1547.6 1421.9 1549.6 1422.0 1551.6 1422.2 C1553.6 1422.4 1555.6 1422.5 1557.6 1422.7 C1559.6 1422.8 1561.6 1422.9 1563.6 1423.1 C1565.6 1423.2 1567.6 1423.3 1569.6 1423.5 C1571.6 1423.6 1573.6 1423.7 1575.6 1423.9 C1577.6 1424.0 1579.6 1424.1 1581.6 1424.3 C1583.6 1424.4 1585.6 1424.5 1587.6 1424.7 C1589.6 1424.9 1591.6 1425.0 1593.6 1425.2 C1595.6 1425.4 1597.6 1425.5 1599.6 1425.7 C1601.6 1425.9 1603.6 1426.1 1605.6 1426.3 C1607.6 1426.5 1609.5 1426.8 1611.5 1427.0 C1613.5 1427.2 1615.5 1427.5 1617.5 1427.7 C1619.5 1427.9 1621.5 1428.2 1623.5 1428.4 C1625.5 1428.7 1627.4 1428.9 1629.4 1429.2 C1631.4 1429.4 1633.4 1429.7 1635.4 1429.9 C1637.4 1430.2 1639.4 1430.4 1641.3 1430.7 C1643.3 1431.0 1645.3 1431.2 1647.3 1431.5 C1649.3 1431.7 1651.3 1432.0 1653.3 1432.2 C1655.3 1432.5 1657.2 1432.7 1659.2 1432.9 C1661.2 1433.2 1663.2 1433.4 1665.2 1433.7 C1667.2 1433.9 1669.2 1434.1 1671.2 1434.4 C1673.2 1434.6 1675.2 1434.8 1677.1 1435.0 C1679.1 1435.3 1681.1 1435.5 1683.1 1435.7 C1685.1 1435.9 1687.1 1436.2 1689.1 1436.4 C1691.1 1436.6 1693.1 1436.8 1695.1 1437.0 C1697.1 1437.2 1699.0 1437.4 1701.0 1437.7 C1703.0 1437.9 1705.0 1438.1 1707.0 1438.3 C1709.0 1438.5 1711.0 1438.7 1713.0 1438.9 C1715.0 1439.1 1717.0 1439.3 1719.0 1439.5 C1721.0 1439.7 1723.0 1439.9 1725.0 1440.1 C1726.9 1440.3 1728.9 1440.4 1730.9 1440.6 C1732.9 1440.8 1734.9 1441.0 1736.9 1441.2 C1738.9 1441.4 1740.9 1441.6 1742.9 1441.7 C1744.9 1441.9 1746.9 1442.1 1748.9 1442.3 C1750.9 1442.5 1752.9 1442.6 1754.9 1442.8 C1756.9 1443.0 1758.9 1443.1 1760.9 1443.3 C1762.9 1443.5 1764.9 1443.7 1766.9 1443.8 C1768.8 1444.0 1770.8 1444.2 1772.8 1444.3 C1774.8 1444.5 1776.8 1444.6 1778.8 1444.8 C1780.8 1445.0 1782.8 1445.1 1784.8 1445.3 C1786.8 1445.4 1788.8 1445.6 1790.8 1445.7 C1792.8 1445.9 1794.8 1446.0 1796.8 1446.2 C1798.8 1446.3 1800.8 1446.5 1802.8 1446.6 C1804.8 1446.8 1806.8 1446.9 1808.8 1447.1 C1810.8 1447.2 1812.8 1447.4 1814.8 1447.5 C1816.8 1447.6 1818.8 1447.8 1820.8 1447.9 C1822.8 1448.1 1824.8 1448.2 1826.8 1448.3 C1828.8 1448.5 1830.8 1448.6 1832.8 1448.7 C1834.8 1448.9 1836.8 1449.0 1838.8 1449.1 C1840.8 1449.2 1842.8 1449.4 1844.8 1449.5 C1846.8 1449.6 1848.8 1449.7 1850.8 1449.9 C1852.8 1450.0 1854.8 1450.1 1856.8 1450.2 C1858.8 1450.3 1860.8 1450.5 1862.8 1450.6 C1864.8 1450.7 1866.8 1450.8 1868.8 1450.9 C1870.8 1451.0 1872.8 1451.2 1874.8 1451.3 C1876.8 1451.4 1878.8 1451.5 1880.8 1451.6 C1882.8 1451.7 1884.8 1451.8 1886.8 1451.9 C1888.8 1452.0 1890.8 1452.1 1892.8 1452.2 C1894.8 1452.3 1896.8 1452.4 1898.8 1452.5 C1900.8 1452.6 1902.8 1452.7 1904.8 1452.8 C1906.8 1452.9 1908.8 1453.0 1910.8 1453.1 C1912.8 1453.2 1914.8 1453.3 1916.8 1453.4 C1918.8 1453.5 1920.8 1453.6 1922.8 1453.7 C1924.8 1453.8 1926.8 1453.9 1928.8 1454.0 C1930.8 1454.1 1932.8 1454.2 1934.8 1454.2 C1936.8 1454.3 1938.8 1454.4 1940.8 1454.5 C1942.8 1454.6 1944.8 1454.7 1946.8 1454.8 C1948.8 1454.8 1950.8 1454.9 1952.8 1455.0 C1954.8 1455.1 1956.8 1455.2 1958.8 1455.2 C1960.8 1455.3 1962.8 1455.4 1964.8 1455.5 C1966.8 1455.6 1968.8 1455.6 1970.8 1455.7 C1972.8 1455.8 1974.8 1455.9 1976.8 1455.9 C1978.8 1456.0 1980.8 1456.1 1982.8 1456.1 C1984.8 1456.2 1986.8 1456.3 1988.8 1456.4 C1990.8 1456.4 1992.8 1456.5 1994.8 1456.6 C1996.8 1456.6 1998.8 1456.7 2000.8 1456.8 C2002.8 1456.8 2004.8 1456.9 2006.8 1457.0 C2008.8 1457.0 2010.8 1457.1 2012.8 1457.2 C2014.8 1457.2 2016.8 1457.3 2018.8 1457.3 C2020.9 1457.4 2022.9 1457.5 2024.9 1457.5 C2026.9 1457.6 2028.9 1457.6 2030.9 1457.7 C2032.9 1457.8 2034.9 1457.8 2036.9 1457.9 C2038.9 1457.9 2040.9 1458.0 2042.9 1458.0 C2044.9 1458.1 2046.9 1458.2 2048.9 1458.2 C2050.9 1458.3 2052.9 1458.3 2054.9 1458.4 C2056.9 1458.4 2058.9 1458.5 2060.9 1458.5 C2062.9 1458.6 2064.9 1458.6 2066.9 1458.7 C2068.9 1458.7 2070.9 1458.8 2072.9 1458.8 C2074.9 1458.9 2076.9 1458.9 2078.9 1459.0 C2080.9 1459.0 2082.9 1459.1 2084.9 1459.1 C2086.9 1459.2 2088.9 1459.2 2090.9 1459.3 C2092.9 1459.3 2094.9 1459.4 2096.9 1459.4 C2098.9 1459.4 2100.9 1459.5 2102.9 1459.5 C2105.0 1459.6 2107.0 1459.6 2109.0 1459.7 C2111.0 1459.7 2113.0 1459.8 2115.0 1459.8 C2117.0 1459.8 2119.0 1459.9 2121.0 1459.9 C2123.0 1460.0 2125.0 1460.0 2127.0 1460.0" stroke="#FF0000"/>
<path d="M354.1 1421.9 C356.1 1421.8 358.1 1421.7 360.1 1421.6 C362.1 1421.4 364.1 1421.3 366.1 1421.1 C368.1 1420.9 370.1 1420.8 372.1 1420.6 C374.1 1420.4 376.1 1420.3 378.1 1420.1 C380.1 1420.0 382.1 1419.8 384.1 1419.7 C386.1 1419.6 388.1 1419.5 390.1 1419.4 C392.1 1419.2 394.1 1419.2 396.1 1419.1 C398.1 1419.0 400.1 1418.9 402.1 1418.8 C404.1 1418.7 406.1 1418.6 408.1 1418.4 C410.1 1418.3 412.1 1418.2 414.1 1418.0 C416.1 1417.8 418.1 1417.7 420.1 1417.5 C422.0 1417.2 424.0 1417.0 426.0 1416.7 C428.0 1416.4 430.0 1416.1 432.0 1415.8 C433.9 1415.4 435.9 1415.0 437.9 1414.6 C439.8 1414.2 441.8 1413.7 443.7 1413.2 C445.6 1412.7 447.6 1412.1 449.5 1411.5 C451.4 1410.9 453.3 1410.3 455.2 1409.6 C457.1 1409.0 459.0 1408.3 460.8 1407.5 C462.7 1406.8 464.5 1406.0 466.4 1405.2 C468.2 1404.4 470.0 1403.6 471.8 1402.7 C473.6 1401.8 475.4 1400.9 477.2 1400.0 C479.0 1399.0 480.7 1398.1 482.5 1397.1 C484.2 1396.1 485.9 1395.0 487.6 1394.0 C489.3 1392.9 491.0 1391.8 492.6 1390.7 C494.3 1389.5 495.9 1388.4 497.5 1387.2 C499.1 1386.0 500.7 1384.7 502.2 1383.4 C503.8 1382.2 505.3 1380.8 506.8 1379.5 C508.2 1378.1 509.7 1376.7 511.1 1375.3 C512.5 1373.9 513.9 1372.4 515.2 1370.9 C516.5 1369.5 517.8 1367.9 519.1 1366.4 C520.4 1364.8 521.6 1363.3 522.9 1361.7 C524.1 1360.1 525.3 1358.5 526.4 1356.8 C527.6 1355.2 528.7 1353.5 529.8 1351.9 C530.9 1350.2 532.0 1348.5 533.1 1346.8 C534.2 1345.1 535.2 1343.4 536.3 1341.7 C537.3 1340.0 538.3 1338.3 539.4 1336.6 C540.4 1334.8 541.4 1333.1 542.4 1331.4 C543.4 1329.6 544.3 1327.9 545.3 1326.1 C546.3 1324.4 547.3 1322.6 548.2 1320.8 C549.2 1319.1 550.1 1317.3 551.0 1315.5 C552.0 1313.8 552.9 1312.0 553.8 1310.2 C554.8 1308.4 555.7 1306.7 556.6 1304.9 C557.5 1303.1 558.4 1301.3 559.2 1299.5 C560.1 1297.7 561.0 1295.9 561.9 1294.1 C562.7 1292.3 563.6 1290.5 564.5 1288.6 C565.3 1286.8 566.2 1285.0 567.0 1283.2 C567.8 1281.4 568.7 1279.6 569.5 1277.7 C570.3 1275.9 571.2 1274.1 572.0 1272.2 C572.8 1270.4 573.6 1268.6 574.4 1266.7 C575.2 1264.9 576.0 1263.1 576.8 1261.2 C577.6 1259.4 578.4 1257.5 579.1 1255.7 C579.9 1253.9 580.7 1252.0 581.5 1250.2 C582.2 1248.3 583.0 1246.5 583.8 1244.6 C584.5 1242.8 585.3 1240.9 586.1 1239.0 C586.8 1237.2 587.6 1235.3 588.3 1233.5 C589.1 1231.6 589.8 1229.7 590.6 1227.9 C591.3 1226.0 592.0 1224.2 592.8 1222.3 C593.5 1220.4 594.3 1218.6 595.0 1216.7 C595.7 1214.8 596.5 1213.0 597.2 1211.1 C597.9 1209.2 598.6 1207.4 599.4 1205.5 C600.1 1203.6 600.8 1201.8 601.6 1199.9 C602.3 1198.0 603.0 1196.2 603.7 1194.3 C604.4 1192.4 605.2 1190.6 605.9 1188.7 C606.6 1186.8 607.3 1185.0 608.1 1183.1 C608.8 1181.2 609.5 1179.3 610.2 1177.5 C610.9 1175.6 611.6 1173.7 612.4 1171.9 C613.1 1170.0 613.8 1168.1 614.5 1166.2 C615.2 1164.4 615.9 1162.5 616.6 1160.6 C617.3 1158.7 618.1 1156.9 618.8 1155.0 C619.5 1153.1 620.2 1151.2 620.9 1149.4 C621.6 1147.5 622.3 1145.6 623.0 1143.7 C623.7 1141.9 624.4 1140.0 625.1 1138.1 C625.8 1136.2 626.5 1134.4 627.2 1132.5 C627.9 1130.6 628.6 1128.7 629.3 1126.8 C630.0 1125.0 630.7 1123.1 631.4 1121.2 C632.1 1119.3 632.8 1117.5 633.5 1115.6 C634.2 1113.7 634.9 1111.8 635.6 1109.9 C636.3 1108.1 637.0 1106.2 637.7 1104.3 C638.3 1102.4 639.0 1100.5 639.7 1098.6 C640.4 1096.8 641.1 1094.9 641.8 1093.0 C642.5 1091.1 643.2 1089.2 643.9 1087.4 C644.5 1085.5 645.2 1083.6 645.9 1081.7 C646.6 1079.8 647.3 1077.9 648.0 1076.0 C648.6 1074.2 649.3 1072.3 650.0 1070.4 C650.7 1068.5 651.4 1066.6 652.0 1064.7 C652.7 1062.9 653.4 1061.0 654.1 1059.1 C654.7 1057.2 655.4 1055.3 656.1 1053.4 C656.8 1051.5 657.5 1049.6 658.1 1047.8 C658.8 1045.9 659.5 1044.0 660.2 1042.1 C660.8 1040.2 661.5 1038.3 662.2 1036.4 C662.9 1034.6 663.6 1032.7 664.2 1030.8 C664.9 1028.9 665.6 1027.0 666.3 1025.1 C667.0 1023.3 667.7 1021.4 668.3 1019.5 C669.0 1017.6 669.7 1015.7 670.4 1013.8 C671.1 1012.0 671.8 1010.1 672.5 1008.2 C673.2 1006.3 673.9 1004.5 674.6 1002.6 C675.3 1000.7 676.0 998.8 676.8 997.0 C677.5 995.1 678.2 993.2 678.9 991.3 C679.6 989.5 680.3 987.6 681.1 985.7 C681.8 983.9 682.5 982.0 683.3 980.1 C684.0 978.3 684.8 976.4 685.5 974.6 C686.3 972.7 687.0 970.8 687.8 969.0 C688.5 967.1 689.3 965.3 690.1 963.4 C690.8 961.6 691.6 959.7 692.4 957.9 C693.2 956.1 694.0 954.2 694.8 952.4 C695.6 950.6 696.5 948.7 697.3 946.9 C698.1 945.1 699.0 943.3 699.8 941.4 C700.7 939.6 701.5 937.8 702.4 936.0 C703.3 934.2 704.2 932.4 705.1 930.6 C706.0 928.8 706.9 927.1 707.8 925.3 C708.7 923.5 709.7 921.7 710.6 920.0 C711.6 918.2 712.5 916.4 713.5 914.7 C714.5 913.0 715.5 911.2 716.5 909.5 C717.5 907.8 718.6 906.0 719.6 904.3 C720.7 902.6 721.7 900.9 722.8 899.2 C723.9 897.6 725.0 895.9 726.2 894.3 C727.3 892.6 728.5 891.0 729.7 889.4 C730.9 887.8 732.2 886.2 733.5 884.7 C734.7 883.2 736.1 881.6 737.4 880.2 C738.8 878.7 740.2 877.3 741.6 875.9 C743.1 874.5 744.6 873.2 746.1 871.9 C747.7 870.6 749.3 869.4 750.9 868.2 C752.5 867.1 754.2 866.0 755.9 864.9 C757.6 863.9 759.4 862.9 761.2 862.0 C763.0 861.2 764.8 860.3 766.7 859.6 C768.5 858.8 770.4 858.1 772.3 857.6 C774.2 857.0 776.2 856.4 778.1 856.0 C780.1 855.6 782.1 855.2 784.0 854.9 C786.0 854.6 788.0 854.4 790.0 854.3 C792.0 854.2 794.0 854.1 796.0 854.1 C798.0 854.1 800.0 854.2 802.0 854.3 C804.0 854.5 806.0 854.7 808.0 854.9 C810.0 855.2 812.0 855.5 814.0 855.9 C815.9 856.3 817.9 856.7 819.8 857.2 C821.8 857.7 823.7 858.2 825.6 858.8 C827.5 859.4 829.4 860.1 831.3 860.8 C833.2 861.5 835.0 862.2 836.9 863.0 C838.7 863.8 840.6 864.6 842.4 865.5 C844.2 866.4 846.0 867.2 847.7 868.2 C849.5 869.1 851.3 870.0 853.1 871.0 C854.8 872.0 856.5 873.0 858.3 874.0 C860.0 874.9 861.8 876.0 863.5 877.0 C865.2 878.0 866.9 879.0 868.6 880.1 C870.4 881.1 872.1 882.1 873.8 883.2 C875.5 884.2 877.2 885.3 878.9 886.4 C880.6 887.4 882.3 888.5 884.0 889.5 C885.7 890.6 887.4 891.7 889.0 892.8 C890.7 893.9 892.4 895.0 894.1 896.1 C895.8 897.2 897.4 898.3 899.1 899.4 C900.7 900.5 902.4 901.7 904.1 902.8 C905.7 903.9 907.3 905.1 909.0 906.2 C910.6 907.4 912.2 908.6 913.9 909.7 C915.5 910.9 917.1 912.1 918.7 913.3 C920.3 914.5 921.9 915.7 923.5 917.0 C925.1 918.2 926.7 919.4 928.2 920.7 C929.8 921.9 931.3 923.2 932.9 924.4 C934.4 925.7 936.0 927.0 937.5 928.3 C939.0 929.6 940.5 930.9 942.0 932.2 C943.5 933.6 945.0 934.9 946.5 936.3 C948.0 937.6 949.5 939.0 950.9 940.4 C952.4 941.7 953.8 943.1 955.2 944.5 C956.7 945.9 958.1 947.4 959.5 948.8 C960.9 950.2 962.3 951.7 963.7 953.1 C965.1 954.5 966.5 956.0 967.8 957.5 C969.2 958.9 970.6 960.4 971.9 961.9 C973.3 963.4 974.6 964.8 975.9 966.3 C977.3 967.8 978.6 969.3 979.9 970.8 C981.2 972.4 982.5 973.9 983.9 975.4 C985.2 976.9 986.5 978.4 987.8 980.0 C989.1 981.5 990.3 983.0 991.6 984.6 C992.9 986.1 994.2 987.6 995.5 989.2 C996.8 990.7 998.0 992.3 999.3 993.8 C1000.6 995.4 1001.9 996.9 1003.1 998.5 C1004.4 1000.0 1005.7 1001.6 1006.9 1003.1 C1008.2 1004.7 1009.5 1006.2 1010.7 1007.8 C1012.0 1009.3 1013.3 1010.9 1014.5 1012.4 C1015.8 1014.0 1017.1 1015.5 1018.3 1017.1 C1019.6 1018.6 1020.9 1020.2 1022.2 1021.7 C1023.4 1023.3 1024.7 1024.8 1026.0 1026.3 C1027.3 1027.9 1028.6 1029.4 1029.9 1031.0 C1031.2 1032.5 1032.5 1034.0 1033.8 1035.5 C1035.1 1037.1 1036.4 1038.6 1037.7 1040.1 C1039.0 1041.6 1040.3 1043.1 1041.6 1044.6 C1042.9 1046.1 1044.3 1047.6 1045.6 1049.1 C1046.9 1050.6 1048.3 1052.1 1049.6 1053.6 C1051.0 1055.1 1052.3 1056.6 1053.6 1058.1 C1055.0 1059.6 1056.3 1061.0 1057.7 1062.5 C1059.1 1064.0 1060.4 1065.5 1061.8 1066.9 C1063.1 1068.4 1064.5 1069.9 1065.9 1071.3 C1067.3 1072.8 1068.6 1074.3 1070.0 1075.7 C1071.4 1077.2 1072.8 1078.6 1074.1 1080.1 C1075.5 1081.5 1076.9 1083.0 1078.3 1084.4 C1079.7 1085.9 1081.1 1087.3 1082.4 1088.8 C1083.8 1090.2 1085.2 1091.7 1086.6 1093.1 C1088.0 1094.5 1089.4 1096.0 1090.8 1097.4 C1092.2 1098.9 1093.6 1100.3 1094.9 1101.8 C1096.3 1103.2 1097.7 1104.7 1099.1 1106.1 C1100.5 1107.6 1101.8 1109.0 1103.2 1110.5 C1104.6 1112.0 1105.9 1113.4 1107.3 1114.9 C1108.7 1116.4 1110.0 1117.9 1111.3 1119.4 C1112.7 1120.8 1114.0 1122.3 1115.4 1123.8 C1116.7 1125.3 1118.0 1126.8 1119.3 1128.3 C1120.7 1129.8 1122.0 1131.3 1123.3 1132.8 C1124.7 1134.3 1126.0 1135.8 1127.3 1137.3 C1128.7 1138.8 1130.0 1140.3 1131.4 1141.8 C1132.7 1143.3 1134.1 1144.8 1135.4 1146.2 C1136.8 1147.7 1138.2 1149.1 1139.6 1150.6 C1140.9 1152.0 1142.3 1153.5 1143.8 1154.9 C1145.2 1156.3 1146.6 1157.7 1148.1 1159.1 C1149.5 1160.5 1151.0 1161.8 1152.5 1163.2 C1154.0 1164.5 1155.5 1165.8 1157.0 1167.1 C1158.5 1168.5 1160.0 1169.7 1161.6 1171.0 C1163.1 1172.3 1164.7 1173.6 1166.2 1174.8 C1167.8 1176.1 1169.4 1177.3 1171.0 1178.5 C1172.5 1179.8 1174.1 1181.0 1175.7 1182.2 C1177.3 1183.4 1179.0 1184.6 1180.6 1185.8 C1182.2 1186.9 1183.8 1188.1 1185.4 1189.3 C1187.1 1190.5 1188.7 1191.6 1190.3 1192.8 C1192.0 1193.9 1193.6 1195.1 1195.3 1196.2 C1196.9 1197.4 1198.6 1198.5 1200.2 1199.6 C1201.9 1200.8 1203.5 1201.9 1205.2 1203.0 C1206.8 1204.2 1208.5 1205.3 1210.1 1206.4 C1211.8 1207.6 1213.4 1208.7 1215.1 1209.8 C1216.7 1211.0 1218.4 1212.1 1220.0 1213.3 C1221.7 1214.4 1223.3 1215.5 1225.0 1216.7 C1226.6 1217.8 1228.2 1219.0 1229.9 1220.2 C1231.5 1221.3 1233.1 1222.5 1234.8 1223.7 C1236.4 1224.8 1238.0 1226.0 1239.6 1227.2 C1241.3 1228.4 1242.9 1229.5 1244.5 1230.7 C1246.1 1231.9 1247.7 1233.1 1249.4 1234.3 C1251.0 1235.4 1252.6 1236.6 1254.2 1237.8 C1255.8 1239.0 1257.5 1240.2 1259.1 1241.4 C1260.7 1242.5 1262.3 1243.7 1263.9 1244.9 C1265.6 1246.1 1267.2 1247.2 1268.8 1248.4 C1270.4 1249.6 1272.1 1250.8 1273.7 1251.9 C1275.3 1253.1 1277.0 1254.3 1278.6 1255.4 C1280.2 1256.6 1281.9 1257.7 1283.5 1258.9 C1285.2 1260.0 1286.8 1261.1 1288.5 1262.3 C1290.1 1263.4 1291.8 1264.5 1293.4 1265.6 C1295.1 1266.8 1296.8 1267.9 1298.4 1269.0 C1300.1 1270.1 1301.8 1271.2 1303.5 1272.2 C1305.2 1273.3 1306.9 1274.4 1308.6 1275.5 C1310.3 1276.5 1312.0 1277.6 1313.7 1278.6 C1315.4 1279.6 1317.1 1280.7 1318.8 1281.7 C1320.6 1282.7 1322.3 1283.8 1324.0 1284.8 C1325.7 1285.8 1327.5 1286.8 1329.2 1287.8 C1331.0 1288.8 1332.7 1289.8 1334.4 1290.8 C1336.2 1291.8 1337.9 1292.7 1339.7 1293.7 C1341.4 1294.7 1343.2 1295.7 1344.9 1296.6 C1346.7 1297.6 1348.4 1298.6 1350.2 1299.5 C1352.0 1300.5 1353.7 1301.5 1355.5 1302.4 C1357.2 1303.4 1359.0 1304.4 1360.7 1305.3 C1362.5 1306.3 1364.3 1307.2 1366.0 1308.2 C1367.8 1309.1 1369.6 1310.1 1371.3 1311.1 C1373.1 1312.0 1374.8 1313.0 1376.6 1313.9 C1378.4 1314.9 1380.1 1315.9 1381.9 1316.8 C1383.6 1317.8 1385.4 1318.7 1387.1 1319.7 C1388.9 1320.7 1390.7 1321.6 1392.4 1322.6 C1394.2 1323.6 1395.9 1324.5 1397.7 1325.5 C1399.4 1326.4 1401.2 1327.4 1403.0 1328.4 C1404.7 1329.3 1406.5 1330.2 1408.3 1331.2 C1410.0 1332.1 1411.8 1333.1 1413.6 1334.0 C1415.4 1334.9 1417.2 1335.8 1418.9 1336.7 C1420.7 1337.7 1422.5 1338.6 1424.3 1339.4 C1426.1 1340.3 1427.9 1341.2 1429.7 1342.1 C1431.5 1342.9 1433.3 1343.8 1435.2 1344.6 C1437.0 1345.5 1438.8 1346.3 1440.6 1347.1 C1442.5 1347.9 1444.3 1348.7 1446.2 1349.5 C1448.0 1350.3 1449.9 1351.0 1451.7 1351.8 C1453.6 1352.5 1455.4 1353.3 1457.3 1354.0 C1459.2 1354.7 1461.0 1355.4 1462.9 1356.2 C1464.8 1356.9 1466.7 1357.5 1468.6 1358.2 C1470.4 1358.9 1472.3 1359.6 1474.2 1360.2 C1476.1 1360.9 1478.0 1361.5 1479.9 1362.2 C1481.8 1362.8 1483.7 1363.5 1485.6 1364.1 C1487.5 1364.7 1489.4 1365.3 1491.3 1365.9 C1493.3 1366.5 1495.2 1367.1 1497.1 1367.7 C1499.0 1368.3 1500.9 1368.8 1502.9 1369.4 C1504.8 1370.0 1506.7 1370.5 1508.6 1371.1 C1510.6 1371.6 1512.5 1372.2 1514.4 1372.7 C1516.3 1373.3 1518.3 1373.8 1520.2 1374.3 C1522.1 1374.9 1524.1 1375.4 1526.0 1375.9 C1527.9 1376.4 1529.9 1376.9 1531.8 1377.4 C1533.8 1377.9 1535.7 1378.4 1537.6 1378.9 C1539.6 1379.4 1541.5 1379.9 1543.5 1380.4 C1545.4 1380.9 1547.3 1381.4 1549.3 1381.9 C1551.2 1382.4 1553.2 1382.9 1555.1 1383.4 C1557.1 1383.9 1559.0 1384.3 1561.0 1384.8 C1562.9 1385.3 1564.8 1385.8 1566.8 1386.3 C1568.7 1386.7 1570.7 1387.2 1572.6 1387.7 C1574.6 1388.2 1576.5 1388.7 1578.5 1389.2 C1580.4 1389.6 1582.4 1390.1 1584.3 1390.6 C1586.2 1391.1 1588.2 1391.6 1590.1 1392.0 C1592.1 1392.5 1594.0 1393.0 1596.0 1393.5 C1597.9 1394.0 1599.9 1394.4 1601.8 1394.9 C1603.8 1395.4 1605.7 1395.9 1607.7 1396.3 C1609.6 1396.8 1611.6 1397.3 1613.5 1397.7 C1615.5 1398.2 1617.4 1398.6 1619.4 1399.1 C1621.3 1399.5 1623.3 1400.0 1625.2 1400.4 C1627.2 1400.9 1629.1 1401.3 1631.1 1401.7 C1633.0 1402.2 1635.0 1402.6 1637.0 1403.0 C1638.9 1403.4 1640.9 1403.9 1642.9 1404.3 C1644.8 1404.7 1646.8 1405.1 1648.7 1405.5 C1650.7 1405.8 1652.7 1406.2 1654.6 1406.6 C1656.6 1407.0 1658.6 1407.3 1660.6 1407.7 C1662.5 1408.1 1664.5 1408.4 1666.5 1408.8 C1668.4 1409.1 1670.4 1409.5 1672.4 1409.8 C1674.4 1410.1 1676.3 1410.5 1678.3 1410.8 C1680.3 1411.1 1682.3 1411.5 1684.3 1411.8 C1686.2 1412.1 1688.2 1412.4 1690.2 1412.8 C1692.2 1413.1 1694.1 1413.4 1696.1 1413.7 C1698.1 1414.0 1700.1 1414.3 1702.1 1414.6 C1704.0 1414.9 1706.0 1415.2 1708.0 1415.5 C1710.0 1415.8 1712.0 1416.1 1714.0 1416.4 C1715.9 1416.7 1717.9 1417.0 1719.9 1417.3 C1721.9 1417.6 1723.9 1417.9 1725.8 1418.2 C1727.8 1418.5 1729.8 1418.8 1731.8 1419.1 C1733.8 1419.4 1735.8 1419.7 1737.7 1419.9 C1739.7 1420.2 1741.7 1420.5 1743.7 1420.8 C1745.7 1421.1 1747.7 1421.4 1749.7 1421.6 C1751.6 1421.9 1753.6 1422.2 1755.6 1422.5 C1757.6 1422.7 1759.6 1423.0 1761.6 1423.3 C1763.6 1423.5 1765.5 1423.8 1767.5 1424.1 C1769.5 1424.3 1771.5 1424.6 1773.5 1424.9 C1775.5 1425.1 1777.5 1425.4 1779.4 1425.6 C1781.4 1425.9 1783.4 1426.2 1785.4 1426.4 C1787.4 1426.7 1789.4 1426.9 1791.4 1427.2 C1793.4 1427.4 1795.3 1427.7 1797.3 1427.9 C1799.3 1428.2 1801.3 1428.4 1803.3 1428.6 C1805.3 1428.9 1807.3 1429.1 1809.3 1429.4 C1811.3 1429.6 1813.3 1429.8 1815.2 1430.1 C1817.2 1430.3 1819.2 1430.6 1821.2 1430.8 C1823.2 1431.0 1825.2 1431.2 1827.2 1431.5 C1829.2 1431.7 1831.2 1431.9 1833.2 1432.2 C1835.2 1432.4 1837.1 1432.6 1839.1 1432.8 C1841.1 1433.0 1843.1 1433.3 1845.1 1433.5 C1847.1 1433.7 1849.1 1433.9 1851.1 1434.1 C1853.1 1434.3 1855.1 1434.5 1857.1 1434.8 C1859.1 1435.0 1861.1 1435.2 1863.1 1435.4 C1865.0 1435.6 1867.0 1435.8 1869.0 1436.0 C1871.0 1436.2 1873.0 1436.4 1875.0 1436.6 C1877.0 1436.8 1879.0 1437.0 1881.0 1437.2 C1883.0 1437.4 1885.0 1437.6 1887.0 1437.8 C1889.0 1437.9 1891.0 1438.1 1893.0 1438.3 C1895.0 1438.5 1897.0 1438.7 1899.0 1438.9 C1900.9 1439.1 1902.9 1439.2 1904.9 1439.4 C1906.9 1439.6 1908.9 1439.8 1910.9 1440.0 C1912.9 1440.1 1914.9 1440.3 1916.9 1440.5 C1918.9 1440.7 1920.9 1440.8 1922.9 1441.0 C1924.9 1441.2 1926.9 1441.3 1928.9 1441.5 C1930.9 1441.7 1932.9 1441.8 1934.9 1442.0 C1936.9 1442.1 1938.9 1442.3 1940.9 1442.5 C1942.9 1442.6 1944.9 1442.8 1946.9 1442.9 C1948.9 1443.1 1950.9 1443.2 1952.9 1443.4 C1954.9 1443.5 1956.9 1443.7 1958.9 1443.8 C1960.9 1444.0 1962.9 1444.1 1964.9 1444.3 C1966.9 1444.4 1968.9 1444.5 1970.9 1444.7 C1972.9 1444.8 1974.9 1445.0 1976.9 1445.1 C1978.9 1445.2 1980.9 1445.4 1982.9 1445.5 C1984.9 1445.6 1986.9 1445.8 1988.9 1445.9 C1990.9 1446.0 1992.9 1446.1 1994.9 1446.3 C1996.9 1446.4 1998.9 1446.5 2000.9 1446.6 C2002.9 1446.8 2004.9 1446.9 2006.9 1447.0 C2008.9 1447.1 2010.9 1447.2 2012.9 1447.3 C2014.9 1447.5 2016.9 1447.6 2018.9 1447.7 C2020.9 1447.8 2022.9 1447.9 2024.9 1448.0 C2026.9 1448.1 2028.9 1448.2 2030.9 1448.3 C2032.9 1448.4 2034.9 1448.5 2036.9 1448.6 C2038.9 1448.7 2040.9 1448.8 2042.9 1448.9 C2044.9 1449.0 2046.9 1449.1 2048.9 1449.2 C2050.9 1449.3 2052.9 1449.4 2054.9 1449.5 C2056.9 1449.6 2058.9 1449.6 2060.9 1449.7 C2062.9 1449.8 2064.9 1449.9 2066.9 1450.0 C2068.9 1450.1 2070.9 1450.1 2072.9 1450.2 C2074.9 1450.3 2076.9 1450.4 2078.9 1450.4 C2080.9 1450.5 2082.9 1450.6 2084.9 1450.7 C2086.9 1450.7 2088.9 1450.8 2090.9 1450.9 C2092.9 1450.9 2095.0 1451.0 2097.0 1451.1 C2099.0 1451.1 2101.0 1451.2 2103.0 1451.2 C2105.0 1451.3 2107.0 1451.4 2109.0 1451.4 C2111.0 1451.5 2113.0 1451.5 2115.0 1451.6 C2117.0 1451.6 2119.0 1451.7 2121.0 1451.7 C2123.0 1451.8 2125.0 1451.8 2127.0 1451.9" stroke="#0000FF"/>
<path d="M354.0 1428.6 C356.0 1428.4 358.0 1428.2 360.0 1428.1 C362.0 1427.9 364.0 1427.8 366.0 1427.8 C368.0 1427.7 370.0 1427.6 372.0 1427.6 C374.0 1427.6 376.0 1427.6 378.1 1427.6 C380.1 1427.6 382.1 1427.6 384.1 1427.6 C386.1 1427.7 388.1 1427.7 390.1 1427.8 C392.1 1427.8 394.1 1427.9 396.1 1427.9 C398.1 1428.0 400.1 1428.0 402.1 1428.1 C404.1 1428.1 406.1 1428.2 408.1 1428.2 C410.1 1428.2 412.1 1428.3 414.1 1428.3 C416.1 1428.3 418.1 1428.3 420.1 1428.3 C422.1 1428.3 424.1 1428.2 426.1 1428.2 C428.1 1428.1 430.1 1428.0 432.1 1427.9 C434.1 1427.8 436.1 1427.7 438.1 1427.5 C440.1 1427.3 442.1 1427.1 444.1 1426.9 C446.1 1426.7 448.1 1426.4 450.1 1426.1 C452.0 1425.7 454.0 1425.4 456.0 1425.0 C457.9 1424.6 459.9 1424.1 461.8 1423.6 C463.8 1423.1 465.7 1422.6 467.6 1422.0 C469.5 1421.4 471.4 1420.8 473.3 1420.2 C475.2 1419.5 477.1 1418.8 479.0 1418.1 C480.8 1417.3 482.7 1416.6 484.5 1415.8 C486.3 1414.9 488.2 1414.1 490.0 1413.2 C491.8 1412.4 493.6 1411.5 495.4 1410.6 C497.1 1409.7 498.9 1408.7 500.7 1407.7 C502.4 1406.8 504.2 1405.8 505.9 1404.8 C507.6 1403.8 509.3 1402.7 511.0 1401.7 C512.8 1400.7 514.5 1399.6 516.1 1398.5 C517.8 1397.4 519.5 1396.3 521.2 1395.2 C522.8 1394.1 524.5 1393.0 526.1 1391.8 C527.7 1390.6 529.4 1389.5 531.0 1388.3 C532.6 1387.0 534.2 1385.8 535.7 1384.6 C537.3 1383.3 538.8 1382.1 540.4 1380.8 C541.9 1379.5 543.4 1378.2 544.9 1376.8 C546.4 1375.5 547.9 1374.1 549.3 1372.8 C550.8 1371.4 552.2 1370.0 553.6 1368.6 C555.0 1367.1 556.4 1365.7 557.8 1364.2 C559.2 1362.8 560.5 1361.3 561.8 1359.8 C563.1 1358.3 564.4 1356.7 565.7 1355.2 C567.0 1353.6 568.2 1352.1 569.4 1350.5 C570.7 1348.9 571.9 1347.3 573.0 1345.7 C574.2 1344.0 575.4 1342.4 576.5 1340.8 C577.7 1339.1 578.8 1337.5 579.9 1335.8 C581.0 1334.1 582.1 1332.5 583.2 1330.8 C584.3 1329.1 585.4 1327.4 586.4 1325.7 C587.5 1324.0 588.6 1322.3 589.6 1320.6 C590.7 1318.9 591.7 1317.2 592.8 1315.5 C593.8 1313.8 594.9 1312.1 595.9 1310.4 C596.9 1308.6 598.0 1306.9 599.0 1305.2 C600.0 1303.5 601.0 1301.7 602.0 1300.0 C603.1 1298.3 604.1 1296.6 605.1 1294.8 C606.1 1293.1 607.1 1291.4 608.1 1289.6 C609.1 1287.9 610.1 1286.1 611.0 1284.4 C612.0 1282.7 613.0 1280.9 614.0 1279.2 C615.0 1277.4 616.0 1275.7 616.9 1273.9 C617.9 1272.2 618.9 1270.4 619.8 1268.7 C620.8 1266.9 621.8 1265.1 622.7 1263.4 C623.7 1261.6 624.6 1259.9 625.6 1258.1 C626.5 1256.3 627.5 1254.6 628.4 1252.8 C629.4 1251.1 630.3 1249.3 631.3 1247.5 C632.2 1245.8 633.2 1244.0 634.1 1242.2 C635.0 1240.4 636.0 1238.7 636.9 1236.9 C637.8 1235.1 638.8 1233.4 639.7 1231.6 C640.6 1229.8 641.6 1228.0 642.5 1226.3 C643.4 1224.5 644.3 1222.7 645.3 1220.9 C646.2 1219.1 647.1 1217.4 648.0 1215.6 C649.0 1213.8 649.9 1212.0 650.8 1210.2 C651.7 1208.5 652.6 1206.7 653.6 1204.9 C654.5 1203.1 655.4 1201.3 656.3 1199.6 C657.2 1197.8 658.1 1196.0 659.1 1194.2 C660.0 1192.4 660.9 1190.7 661.8 1188.9 C662.8 1187.1 663.7 1185.3 664.6 1183.6 C665.5 1181.8 666.5 1180.0 667.4 1178.2 C668.3 1176.5 669.3 1174.7 670.2 1172.9 C671.2 1171.2 672.1 1169.4 673.1 1167.7 C674.1 1165.9 675.0 1164.1 676.0 1162.4 C677.0 1160.6 678.0 1158.9 678.9 1157.2 C679.9 1155.4 680.9 1153.7 682.0 1151.9 C683.0 1150.2 684.0 1148.5 685.0 1146.8 C686.1 1145.1 687.1 1143.4 688.1 1141.6 C689.2 1139.9 690.3 1138.2 691.4 1136.6 C692.4 1134.9 693.5 1133.2 694.6 1131.5 C695.7 1129.9 696.9 1128.2 698.0 1126.5 C699.1 1124.9 700.3 1123.3 701.4 1121.6 C702.6 1120.0 703.8 1118.4 705.0 1116.8 C706.2 1115.2 707.4 1113.6 708.6 1112.0 C709.9 1110.4 711.1 1108.8 712.4 1107.3 C713.6 1105.7 714.9 1104.2 716.2 1102.7 C717.5 1101.2 718.9 1099.6 720.2 1098.2 C721.5 1096.7 722.9 1095.2 724.3 1093.7 C725.6 1092.3 727.0 1090.8 728.4 1089.4 C729.8 1088.0 731.3 1086.6 732.7 1085.2 C734.2 1083.8 735.7 1082.5 737.2 1081.1 C738.7 1079.8 740.2 1078.5 741.7 1077.2 C743.3 1076.0 744.8 1074.7 746.4 1073.5 C748.0 1072.3 749.6 1071.1 751.3 1069.9 C752.9 1068.8 754.6 1067.7 756.3 1066.6 C758.0 1065.5 759.7 1064.5 761.4 1063.5 C763.2 1062.5 764.9 1061.6 766.7 1060.7 C768.5 1059.8 770.4 1059.0 772.2 1058.2 C774.0 1057.4 775.9 1056.7 777.8 1056.0 C779.7 1055.3 781.6 1054.7 783.5 1054.2 C785.4 1053.6 787.4 1053.2 789.4 1052.7 C791.3 1052.3 793.3 1052.0 795.3 1051.7 C797.3 1051.4 799.3 1051.2 801.3 1051.1 C803.3 1051.0 805.3 1051.0 807.3 1051.0 C809.3 1051.0 811.3 1051.1 813.3 1051.3 C815.3 1051.5 817.2 1051.7 819.2 1052.0 C821.2 1052.3 823.2 1052.7 825.1 1053.1 C827.1 1053.5 829.1 1054.0 831.0 1054.5 C832.9 1055.0 834.9 1055.5 836.8 1056.1 C838.7 1056.7 840.6 1057.3 842.5 1058.0 C844.4 1058.6 846.3 1059.3 848.2 1060.0 C850.0 1060.7 851.9 1061.4 853.8 1062.1 C855.6 1062.9 857.5 1063.6 859.3 1064.4 C861.2 1065.2 863.0 1066.0 864.9 1066.7 C866.7 1067.5 868.5 1068.3 870.4 1069.1 C872.2 1069.9 874.1 1070.7 875.9 1071.5 C877.7 1072.3 879.6 1073.1 881.4 1073.9 C883.2 1074.7 885.1 1075.5 886.9 1076.4 C888.7 1077.2 890.6 1078.0 892.4 1078.8 C894.2 1079.6 896.1 1080.4 897.9 1081.2 C899.7 1082.0 901.5 1082.9 903.4 1083.7 C905.2 1084.5 907.0 1085.3 908.9 1086.1 C910.7 1086.9 912.5 1087.7 914.4 1088.6 C916.2 1089.4 918.0 1090.2 919.9 1091.0 C921.7 1091.8 923.5 1092.6 925.3 1093.5 C927.2 1094.3 929.0 1095.1 930.8 1096.0 C932.6 1096.8 934.4 1097.7 936.2 1098.5 C938.0 1099.4 939.8 1100.3 941.6 1101.2 C943.4 1102.1 945.2 1103.0 947.0 1103.9 C948.7 1104.9 950.5 1105.8 952.3 1106.8 C954.0 1107.8 955.7 1108.8 957.5 1109.8 C959.2 1110.9 960.9 1111.9 962.6 1113.0 C964.2 1114.1 965.9 1115.2 967.6 1116.3 C969.2 1117.4 970.9 1118.6 972.5 1119.7 C974.1 1120.9 975.7 1122.1 977.4 1123.3 C979.0 1124.5 980.6 1125.7 982.1 1126.9 C983.7 1128.1 985.3 1129.4 986.9 1130.6 C988.4 1131.9 990.0 1133.1 991.6 1134.4 C993.1 1135.6 994.7 1136.9 996.2 1138.2 C997.8 1139.4 999.3 1140.7 1000.9 1142.0 C1002.4 1143.3 1004.0 1144.5 1005.5 1145.8 C1007.1 1147.1 1008.6 1148.3 1010.2 1149.6 C1011.7 1150.9 1013.3 1152.2 1014.8 1153.4 C1016.4 1154.7 1017.9 1156.0 1019.5 1157.2 C1021.0 1158.5 1022.6 1159.7 1024.1 1161.0 C1025.7 1162.3 1027.3 1163.5 1028.8 1164.8 C1030.4 1166.0 1032.0 1167.2 1033.6 1168.5 C1035.1 1169.7 1036.7 1170.9 1038.3 1172.2 C1039.9 1173.4 1041.5 1174.6 1043.1 1175.8 C1044.7 1177.0 1046.3 1178.2 1047.9 1179.4 C1049.5 1180.6 1051.1 1181.8 1052.7 1183.0 C1054.3 1184.2 1056.0 1185.3 1057.6 1186.5 C1059.2 1187.7 1060.9 1188.8 1062.5 1190.0 C1064.2 1191.1 1065.8 1192.2 1067.5 1193.3 C1069.2 1194.5 1070.8 1195.6 1072.5 1196.7 C1074.2 1197.8 1075.8 1198.9 1077.5 1199.9 C1079.2 1201.0 1080.9 1202.1 1082.6 1203.2 C1084.3 1204.3 1086.0 1205.4 1087.6 1206.4 C1089.3 1207.5 1091.0 1208.6 1092.7 1209.7 C1094.4 1210.7 1096.1 1211.8 1097.8 1212.9 C1099.5 1214.0 1101.2 1215.1 1102.8 1216.1 C1104.5 1217.2 1106.2 1218.3 1107.9 1219.4 C1109.5 1220.5 1111.2 1221.6 1112.9 1222.7 C1114.6 1223.9 1116.2 1225.0 1117.9 1226.1 C1119.5 1227.2 1121.2 1228.3 1122.8 1229.5 C1124.5 1230.6 1126.2 1231.7 1127.8 1232.9 C1129.5 1234.0 1131.1 1235.1 1132.8 1236.2 C1134.4 1237.4 1136.1 1238.5 1137.7 1239.6 C1139.4 1240.8 1141.1 1241.9 1142.7 1243.0 C1144.4 1244.1 1146.0 1245.2 1147.7 1246.3 C1149.4 1247.4 1151.1 1248.6 1152.7 1249.6 C1154.4 1250.7 1156.1 1251.8 1157.8 1252.9 C1159.5 1254.0 1161.2 1255.1 1162.9 1256.1 C1164.6 1257.2 1166.3 1258.2 1168.0 1259.3 C1169.7 1260.3 1171.4 1261.4 1173.1 1262.4 C1174.8 1263.4 1176.6 1264.4 1178.3 1265.4 C1180.0 1266.4 1181.8 1267.4 1183.5 1268.4 C1185.3 1269.4 1187.0 1270.4 1188.8 1271.3 C1190.5 1272.3 1192.3 1273.2 1194.1 1274.2 C1195.8 1275.1 1197.6 1276.0 1199.4 1276.9 C1201.2 1277.9 1203.0 1278.8 1204.8 1279.7 C1206.6 1280.6 1208.3 1281.5 1210.1 1282.4 C1211.9 1283.2 1213.7 1284.1 1215.5 1285.0 C1217.3 1285.9 1219.1 1286.8 1220.9 1287.6 C1222.7 1288.5 1224.5 1289.4 1226.3 1290.3 C1228.1 1291.1 1229.9 1292.0 1231.7 1292.9 C1233.5 1293.8 1235.3 1294.6 1237.1 1295.5 C1238.9 1296.4 1240.7 1297.3 1242.5 1298.2 C1244.3 1299.1 1246.1 1300.0 1247.9 1300.9 C1249.7 1301.8 1251.5 1302.7 1253.3 1303.6 C1255.0 1304.5 1256.8 1305.4 1258.6 1306.4 C1260.4 1307.3 1262.2 1308.2 1263.9 1309.1 C1265.7 1310.1 1267.5 1311.0 1269.3 1311.9 C1271.1 1312.8 1272.8 1313.8 1274.6 1314.7 C1276.4 1315.6 1278.2 1316.5 1279.9 1317.4 C1281.7 1318.4 1283.5 1319.3 1285.3 1320.2 C1287.1 1321.1 1288.9 1322.0 1290.7 1322.9 C1292.4 1323.8 1294.2 1324.7 1296.0 1325.6 C1297.8 1326.5 1299.6 1327.4 1301.4 1328.2 C1303.2 1329.1 1305.0 1330.0 1306.8 1330.8 C1308.7 1331.7 1310.5 1332.5 1312.3 1333.4 C1314.1 1334.2 1315.9 1335.0 1317.8 1335.8 C1319.6 1336.6 1321.4 1337.4 1323.3 1338.2 C1325.1 1339.0 1327.0 1339.8 1328.8 1340.6 C1330.7 1341.4 1332.5 1342.1 1334.4 1342.9 C1336.2 1343.7 1338.1 1344.4 1339.9 1345.2 C1341.8 1345.9 1343.6 1346.7 1345.5 1347.4 C1347.4 1348.2 1349.2 1348.9 1351.1 1349.6 C1353.0 1350.4 1354.8 1351.1 1356.7 1351.8 C1358.6 1352.5 1360.4 1353.2 1362.3 1354.0 C1364.2 1354.7 1366.0 1355.4 1367.9 1356.1 C1369.8 1356.8 1371.7 1357.5 1373.5 1358.2 C1375.4 1358.9 1377.3 1359.6 1379.2 1360.4 C1381.0 1361.1 1382.9 1361.8 1384.8 1362.5 C1386.7 1363.2 1388.5 1363.9 1390.4 1364.5 C1392.3 1365.2 1394.2 1365.9 1396.1 1366.6 C1398.0 1367.3 1399.8 1368.0 1401.7 1368.7 C1403.6 1369.3 1405.5 1370.0 1407.4 1370.7 C1409.3 1371.4 1411.2 1372.0 1413.0 1372.7 C1414.9 1373.4 1416.8 1374.0 1418.7 1374.7 C1420.6 1375.3 1422.5 1376.0 1424.4 1376.6 C1426.3 1377.2 1428.2 1377.9 1430.1 1378.5 C1432.0 1379.1 1433.9 1379.8 1435.8 1380.4 C1437.7 1381.0 1439.6 1381.6 1441.5 1382.2 C1443.5 1382.8 1445.4 1383.4 1447.3 1384.0 C1449.2 1384.6 1451.1 1385.2 1453.0 1385.8 C1454.9 1386.3 1456.9 1386.9 1458.8 1387.5 C1460.7 1388.0 1462.6 1388.6 1464.6 1389.1 C1466.5 1389.7 1468.4 1390.2 1470.4 1390.7 C1472.3 1391.3 1474.2 1391.8 1476.2 1392.3 C1478.1 1392.8 1480.0 1393.3 1482.0 1393.8 C1483.9 1394.3 1485.9 1394.8 1487.8 1395.2 C1489.8 1395.7 1491.7 1396.2 1493.7 1396.6 C1495.6 1397.1 1497.6 1397.5 1499.5 1397.9 C1501.5 1398.4 1503.5 1398.8 1505.4 1399.2 C1507.4 1399.6 1509.3 1400.0 1511.3 1400.4 C1513.3 1400.8 1515.2 1401.2 1517.2 1401.6 C1519.2 1402.0 1521.1 1402.3 1523.1 1402.7 C1525.1 1403.1 1527.0 1403.4 1529.0 1403.8 C1531.0 1404.1 1533.0 1404.5 1534.9 1404.8 C1536.9 1405.2 1538.9 1405.5 1540.9 1405.8 C1542.8 1406.1 1544.8 1406.5 1546.8 1406.8 C1548.8 1407.1 1550.7 1407.4 1552.7 1407.7 C1554.7 1408.0 1556.7 1408.3 1558.7 1408.6 C1560.6 1408.9 1562.6 1409.2 1564.6 1409.5 C1566.6 1409.8 1568.6 1410.1 1570.6 1410.4 C1572.5 1410.7 1574.5 1411.0 1576.5 1411.3 C1578.5 1411.6 1580.5 1411.8 1582.5 1412.1 C1584.4 1412.4 1586.4 1412.7 1588.4 1413.0 C1590.4 1413.2 1592.4 1413.5 1594.4 1413.8 C1596.3 1414.1 1598.3 1414.4 1600.3 1414.6 C1602.3 1414.9 1604.3 1415.2 1606.3 1415.5 C1608.2 1415.7 1610.2 1416.0 1612.2 1416.3 C1614.2 1416.6 1616.2 1416.9 1618.2 1417.1 C1620.1 1417.4 1622.1 1417.7 1624.1 1418.0 C1626.1 1418.3 1628.1 1418.6 1630.1 1418.8 C1632.0 1419.1 1634.0 1419.4 1636.0 1419.7 C1638.0 1420.0 1640.0 1420.3 1642.0 1420.6 C1643.9 1420.8 1645.9 1421.1 1647.9 1421.4 C1649.9 1421.7 1651.9 1422.0 1653.9 1422.3 C1655.8 1422.5 1657.8 1422.8 1659.8 1423.1 C1661.8 1423.4 1663.8 1423.7 1665.8 1424.0 C1667.7 1424.2 1669.7 1424.5 1671.7 1424.8 C1673.7 1425.1 1675.7 1425.4 1677.7 1425.6 C1679.6 1425.9 1681.6 1426.2 1683.6 1426.5 C1685.6 1426.8 1687.6 1427.0 1689.6 1427.3 C1691.6 1427.6 1693.5 1427.8 1695.5 1428.1 C1697.5 1428.4 1699.5 1428.6 1701.5 1428.9 C1703.5 1429.2 1705.4 1429.4 1707.4 1429.7 C1709.4 1430.0 1711.4 1430.2 1713.4 1430.5 C1715.4 1430.7 1717.4 1431.0 1719.4 1431.2 C1721.3 1431.5 1723.3 1431.7 1725.3 1432.0 C1727.3 1432.2 1729.3 1432.5 1731.3 1432.7 C1733.3 1432.9 1735.3 1433.2 1737.3 1433.4 C1739.2 1433.6 1741.2 1433.9 1743.2 1434.1 C1745.2 1434.3 1747.2 1434.5 1749.2 1434.7 C1751.2 1435.0 1753.2 1435.2 1755.2 1435.4 C1757.2 1435.6 1759.2 1435.8 1761.2 1436.0 C1763.1 1436.2 1765.1 1436.4 1767.1 1436.6 C1769.1 1436.8 1771.1 1437.0 1773.1 1437.2 C1775.1 1437.4 1777.1 1437.6 1779.1 1437.8 C1781.1 1438.0 1783.1 1438.2 1785.1 1438.4 C1787.1 1438.5 1789.1 1438.7 1791.1 1438.9 C1793.1 1439.1 1795.1 1439.3 1797.1 1439.4 C1799.0 1439.6 1801.0 1439.8 1803.0 1440.0 C1805.0 1440.1 1807.0 1440.3 1809.0 1440.5 C1811.0 1440.6 1813.0 1440.8 1815.0 1441.0 C1817.0 1441.1 1819.0 1441.3 1821.0 1441.4 C1823.0 1441.6 1825.0 1441.8 1827.0 1441.9 C1829.0 1442.1 1831.0 1442.2 1833.0 1442.4 C1835.0 1442.5 1837.0 1442.7 1839.0 1442.8 C1841.0 1443.0 1843.0 1443.1 1845.0 1443.3 C1847.0 1443.4 1849.0 1443.6 1851.0 1443.7 C1853.0 1443.9 1855.0 1444.0 1857.0 1444.1 C1859.0 1444.3 1861.0 1444.4 1863.0 1444.6 C1865.0 1444.7 1867.0 1444.8 1869.0 1445.0 C1871.0 1445.1 1873.0 1445.2 1875.0 1445.4 C1877.0 1445.5 1879.0 1445.7 1881.0 1445.8 C1883.0 1445.9 1885.0 1446.1 1887.0 1446.2 C1889.0 1446.3 1890.9 1446.5 1892.9 1446.6 C1894.9 1446.7 1896.9 1446.8 1898.9 1447.0 C1900.9 1447.1 1902.9 1447.2 1904.9 1447.4 C1906.9 1447.5 1908.9 1447.6 1910.9 1447.8 C1912.9 1447.9 1914.9 1448.0 1916.9 1448.1 C1918.9 1448.3 1920.9 1448.4 1922.9 1448.5 C1924.9 1448.7 1926.9 1448.8 1928.9 1448.9 C1930.9 1449.0 1932.9 1449.2 1934.9 1449.3 C1936.9 1449.4 1938.9 1449.6 1940.9 1449.7 C1942.9 1449.8 1944.9 1449.9 1946.9 1450.1 C1948.9 1450.2 1950.9 1450.3 1952.9 1450.5 C1954.9 1450.6 1956.9 1450.7 1958.9 1450.8 C1960.9 1451.0 1962.9 1451.1 1964.9 1451.2 C1966.9 1451.4 1968.9 1451.5 1970.9 1451.6 C1972.9 1451.7 1974.9 1451.9 1976.9 1452.0 C1978.9 1452.1 1980.9 1452.2 1982.9 1452.4 C1984.9 1452.5 1986.9 1452.6 1988.9 1452.7 C1990.9 1452.8 1992.9 1453.0 1994.9 1453.1 C1996.9 1453.2 1998.9 1453.3 2000.9 1453.5 C2002.9 1453.6 2004.9 1453.7 2006.9 1453.8 C2008.9 1453.9 2010.9 1454.0 2012.9 1454.2 C2014.9 1454.3 2016.9 1454.4 2018.9 1454.5 C2020.9 1454.6 2022.9 1454.7 2024.9 1454.8 C2026.9 1454.9 2028.9 1455.0 2030.9 1455.1 C2032.9 1455.3 2034.9 1455.4 2036.9 1455.5 C2038.9 1455.6 2040.9 1455.7 2042.9 1455.8 C2044.9 1455.9 2046.9 1456.0 2048.9 1456.1 C2050.9 1456.2 2052.9 1456.2 2054.9 1456.3 C2056.9 1456.4 2058.9 1456.5 2060.9 1456.6 C2062.9 1456.7 2064.9 1456.8 2066.9 1456.9 C2068.9 1457.0 2070.9 1457.0 2072.9 1457.1 C2074.9 1457.2 2076.9 1457.3 2078.9 1457.4 C2080.9 1457.4 2083.0 1457.5 2085.0 1457.6 C2087.0 1457.6 2089.0 1457.7 2091.0 1457.8 C2093.0 1457.8 2095.0 1457.9 2097.0 1458.0 C2099.0 1458.0 2101.0 1458.1 2103.0 1458.1 C2105.0 1458.2 2107.0 1458.2 2109.0 1458.3 C2111.0 1458.3 2113.0 1458.4 2115.0 1458.4 C2117.0 1458.5 2119.0 1458.5 2121.0 1458.6 C2123.0 1458.6 2125.0 1458.6 2127.0 1458.7" stroke="#FF00FF"/>
</g>
<g font-family="'Liberation Serif','Times New Roman',serif" font-weight="bold" font-size="75" fill="#000"><text transform="translate(437.9 1574.2) scale(1 1.015)" text-anchor="middle">400</text><text transform="translate(860.1 1574.2) scale(1 1.015)" text-anchor="middle">450</text><text transform="translate(1282.2 1574.2) scale(1 1.015)" text-anchor="middle">500</text><text transform="translate(1704.4 1574.2) scale(1 1.015)" text-anchor="middle">550</text><text transform="translate(2126.5 1574.2) scale(1 1.015)" text-anchor="middle">600</text><text transform="translate(323.5 240.9) scale(1 1.015)" text-anchor="end">150</text><text transform="translate(323.5 663.1) scale(1 1.015)" text-anchor="end">100</text><text transform="translate(323.5 1085.3) scale(1 1.015)" text-anchor="end">50</text><text transform="translate(323.5 1507.4) scale(1 1.015)" text-anchor="end">0</text></g>
<text transform="translate(1240 1687) scale(0.978 1)" text-anchor="middle" font-family="'Liberation Serif','Times New Roman',serif" font-weight="bold" font-size="97">Wavelengh (nm)</text>
<text transform="translate(119.7 737.5) rotate(-90) scale(0.976 1)" x="0" y="0" text-anchor="middle" font-family="'Liberation Serif','Times New Roman',serif" font-weight="bold" font-size="97">Intensity (a.u.)</text>
<line x1="1402" y1="167.4" x2="1553" y2="167.4" stroke="#000000" stroke-width="6.5" stroke-linecap="round"/><text x="1589.8" y="194.4" font-family="'Liberation Serif','Times New Roman',serif" font-weight="bold" font-size="75">PCN</text><line x1="1402" y1="261.3" x2="1553" y2="261.3" stroke="#FF0000" stroke-width="6.5" stroke-linecap="round"/><text x="1589.8" y="288.3" font-family="'Liberation Serif','Times New Roman',serif" font-weight="bold" font-size="75">PCN/BiOCl-0</text><line x1="1402" y1="354.8" x2="1553" y2="354.8" stroke="#0000FF" stroke-width="6.5" stroke-linecap="round"/><text x="1589.8" y="381.8" font-family="'Liberation Serif','Times New Roman',serif" font-weight="bold" font-size="75">PCN/BiOCl-10</text><line x1="1402" y1="448.3" x2="1553" y2="448.3" stroke="#FF00FF" stroke-width="6.5" stroke-linecap="round"/><text x="1589.8" y="475.3" font-family="'Liberation Serif','Times New Roman',serif" font-weight="bold" font-size="75">PCN/BiOCl-20</text></svg>
</body></html>
